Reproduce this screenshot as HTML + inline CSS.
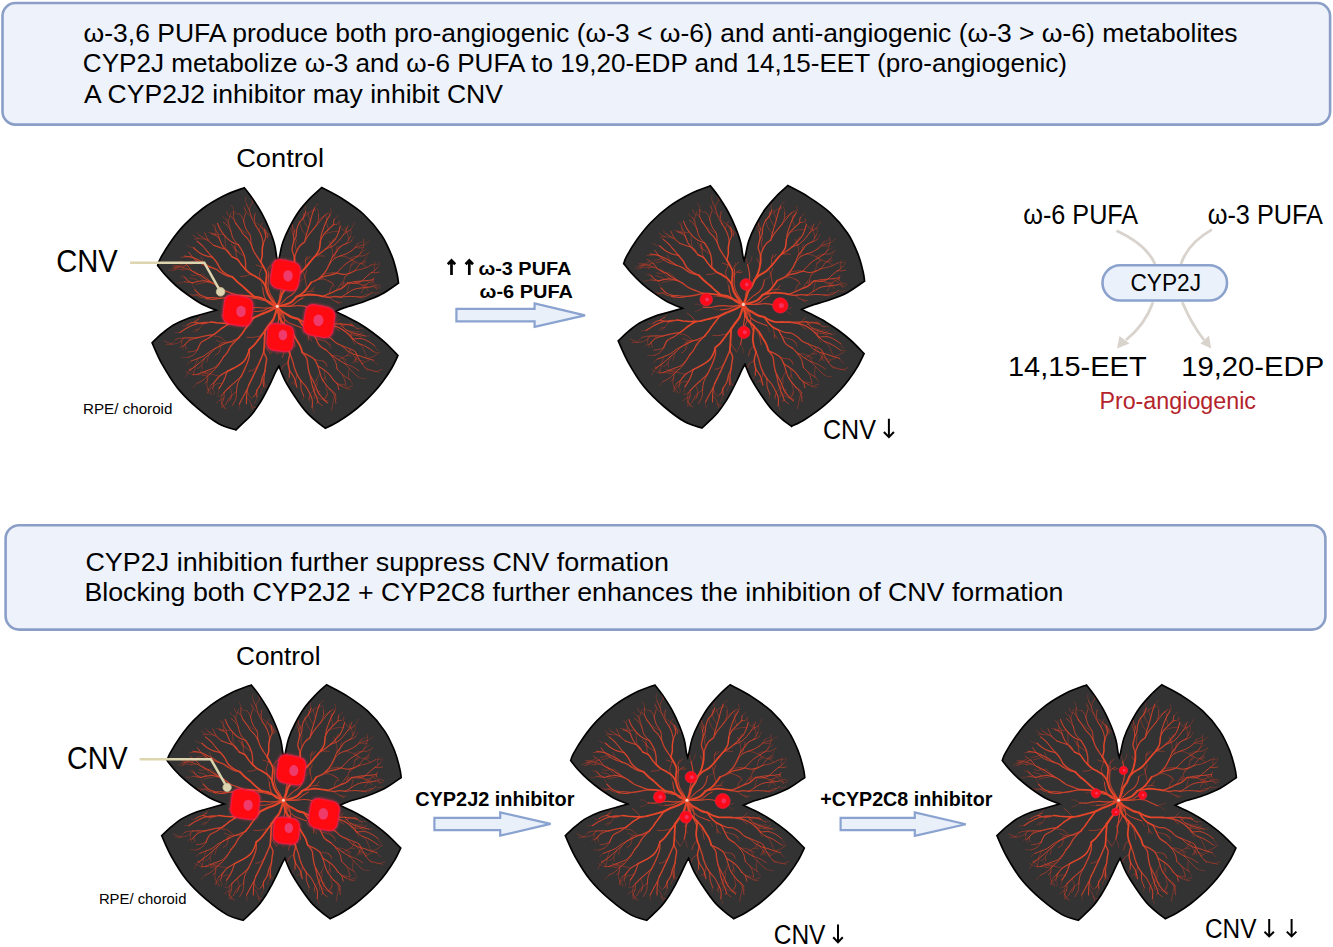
<!DOCTYPE html>
<html><head><meta charset="utf-8"><style>
html,body{margin:0;padding:0;background:#fff;width:1333px;height:947px;overflow:hidden;}
svg{display:block;}
text{font-family:"Liberation Sans",sans-serif;}
</style></head><body>
<svg width="1333" height="947" viewBox="0 0 1333 947">
<defs>
<filter id="glow" x="-50%" y="-50%" width="200%" height="200%"><feGaussianBlur stdDeviation="1.6"/></filter>
<filter id="soft" x="-50%" y="-50%" width="200%" height="200%"><feGaussianBlur stdDeviation="0.5"/></filter>
<filter id="glow2" x="-80%" y="-80%" width="260%" height="260%"><feGaussianBlur stdDeviation="1.6"/></filter>
<clipPath id="fclip"><path d="M-119.7 -40.8C-119.2 -42 -119 -44.1 -116.7 -48.2C-114.5 -52.2 -110.2 -59.5 -106.2 -65.1C-102.2 -70.7 -97.8 -76.5 -92.5 -81.9C-87.2 -87.4 -81 -93 -74.5 -97.8C-68 -102.6 -60.3 -107 -53.4 -110.5C-46.5 -114 -36.4 -117.3 -33 -118.6C-31.7 -116.9 -27.9 -112.4 -25 -108.1C-22.1 -103.8 -18.3 -98.1 -15.5 -92.9C-12.7 -87.7 -10 -82 -7.9 -76.8C-5.8 -71.6 -3.9 -66.4 -2.7 -61.6C-1.5 -56.9 -1.1 -51.2 -0.5 -48.3C0.1 -45.4 0.5 -45 0.7 -44.3C0.9 -45.1 1.3 -46 2.1 -49.2C2.9 -52.4 3.7 -58.6 5.4 -63.5C7 -68.4 9.3 -73.5 12 -78.7C14.7 -83.9 18 -89.9 21.5 -94.8C25 -99.7 29.1 -104.1 32.9 -108.1C36.7 -112.1 42.5 -117 44.4 -118.8C47.7 -117 57.3 -112.5 64.3 -108C71.3 -103.5 79.9 -98 86.5 -91.8C93.1 -85.7 99.5 -78 104.2 -71.1C108.9 -64.2 111.9 -56.8 114.5 -50.4C117.1 -44 118.6 -37.2 119.7 -32.7C120.8 -28.2 120.9 -24.9 121.2 -23.3C118.4 -21.4 110 -15.1 104.2 -12C98.4 -8.9 92.6 -6.8 86.5 -4.6C80.4 -2.4 72 -0.3 67.3 1.3C62.6 2.9 59.7 4.5 58.2 5.2C60.1 6.1 65.6 8.6 69.6 10.7C73.6 12.7 78.1 15 82.3 17.5C86.5 20 90.7 22.8 94.9 25.9C99.1 29 103.3 32.2 107.6 36.1C111.9 40 118.5 47 120.7 49.2C119.7 51.3 117 57.4 114.5 61.7C112 66 108.5 71.1 105.5 75.1C102.5 79.1 99.9 82.3 96.6 85.9C93.3 89.5 89.6 93.3 85.8 96.7C82.1 100.1 78.3 103.4 74.1 106.5C69.9 109.6 65 112.9 60.7 115.5C56.4 118.1 50.2 120.9 48.1 122C46.6 120.8 42.4 117.9 39.1 115.1C35.8 112.3 32 109.1 28.5 105.1C25 101.1 21.5 96.1 18 90.9C14.5 85.7 10.3 79.2 7.6 74C4.9 68.8 2.6 62.2 1.6 59.9C1.1 60.8 -0.2 62.8 -1.5 65.4C-2.8 68 -4.5 72.1 -6.2 75.6C-7.9 79.1 -9.7 82.8 -11.7 86.5C-13.7 90.2 -15.6 93.9 -18 97.5C-20.4 101.1 -23.2 105.3 -25.8 108.4C-28.4 111.5 -31 113.7 -33.6 116.2C-36.2 118.7 -40.1 122.4 -41.4 123.6C-44.2 122.6 -51.9 121.3 -58.2 117.7C-64.6 114.1 -72.6 108 -79.5 102.1C-86.4 96.2 -93.5 89.5 -99.5 82.1C-105.5 74.7 -110.9 65.5 -115.2 57.9C-119.5 50.3 -123.5 40.1 -125.2 36.5C-123.5 34.9 -118.8 30.2 -115.2 27.2C-111.6 24.2 -108.1 21.2 -103.8 18.7C-99.5 16.2 -94.3 14 -89.5 12.2C-84.7 10.4 -80 9.4 -75.2 8C-70.5 6.6 -63.4 4.6 -61 3.9C-63.4 2.9 -70.7 0.3 -75.6 -2.3C-80.5 -5 -86 -8.9 -90.3 -12C-94.6 -15.1 -97.7 -17.5 -101.4 -20.8C-105.1 -24.1 -109.5 -28.6 -112.5 -31.9C-115.5 -35.2 -118.5 -39.3 -119.7 -40.8Z"/></clipPath>
<g id="flower">
<path d="M-119.7 -40.8C-119.2 -42 -119 -44.1 -116.7 -48.2C-114.5 -52.2 -110.2 -59.5 -106.2 -65.1C-102.2 -70.7 -97.8 -76.5 -92.5 -81.9C-87.2 -87.4 -81 -93 -74.5 -97.8C-68 -102.6 -60.3 -107 -53.4 -110.5C-46.5 -114 -36.4 -117.3 -33 -118.6C-31.7 -116.9 -27.9 -112.4 -25 -108.1C-22.1 -103.8 -18.3 -98.1 -15.5 -92.9C-12.7 -87.7 -10 -82 -7.9 -76.8C-5.8 -71.6 -3.9 -66.4 -2.7 -61.6C-1.5 -56.9 -1.1 -51.2 -0.5 -48.3C0.1 -45.4 0.5 -45 0.7 -44.3C0.9 -45.1 1.3 -46 2.1 -49.2C2.9 -52.4 3.7 -58.6 5.4 -63.5C7 -68.4 9.3 -73.5 12 -78.7C14.7 -83.9 18 -89.9 21.5 -94.8C25 -99.7 29.1 -104.1 32.9 -108.1C36.7 -112.1 42.5 -117 44.4 -118.8C47.7 -117 57.3 -112.5 64.3 -108C71.3 -103.5 79.9 -98 86.5 -91.8C93.1 -85.7 99.5 -78 104.2 -71.1C108.9 -64.2 111.9 -56.8 114.5 -50.4C117.1 -44 118.6 -37.2 119.7 -32.7C120.8 -28.2 120.9 -24.9 121.2 -23.3C118.4 -21.4 110 -15.1 104.2 -12C98.4 -8.9 92.6 -6.8 86.5 -4.6C80.4 -2.4 72 -0.3 67.3 1.3C62.6 2.9 59.7 4.5 58.2 5.2C60.1 6.1 65.6 8.6 69.6 10.7C73.6 12.7 78.1 15 82.3 17.5C86.5 20 90.7 22.8 94.9 25.9C99.1 29 103.3 32.2 107.6 36.1C111.9 40 118.5 47 120.7 49.2C119.7 51.3 117 57.4 114.5 61.7C112 66 108.5 71.1 105.5 75.1C102.5 79.1 99.9 82.3 96.6 85.9C93.3 89.5 89.6 93.3 85.8 96.7C82.1 100.1 78.3 103.4 74.1 106.5C69.9 109.6 65 112.9 60.7 115.5C56.4 118.1 50.2 120.9 48.1 122C46.6 120.8 42.4 117.9 39.1 115.1C35.8 112.3 32 109.1 28.5 105.1C25 101.1 21.5 96.1 18 90.9C14.5 85.7 10.3 79.2 7.6 74C4.9 68.8 2.6 62.2 1.6 59.9C1.1 60.8 -0.2 62.8 -1.5 65.4C-2.8 68 -4.5 72.1 -6.2 75.6C-7.9 79.1 -9.7 82.8 -11.7 86.5C-13.7 90.2 -15.6 93.9 -18 97.5C-20.4 101.1 -23.2 105.3 -25.8 108.4C-28.4 111.5 -31 113.7 -33.6 116.2C-36.2 118.7 -40.1 122.4 -41.4 123.6C-44.2 122.6 -51.9 121.3 -58.2 117.7C-64.6 114.1 -72.6 108 -79.5 102.1C-86.4 96.2 -93.5 89.5 -99.5 82.1C-105.5 74.7 -110.9 65.5 -115.2 57.9C-119.5 50.3 -123.5 40.1 -125.2 36.5C-123.5 34.9 -118.8 30.2 -115.2 27.2C-111.6 24.2 -108.1 21.2 -103.8 18.7C-99.5 16.2 -94.3 14 -89.5 12.2C-84.7 10.4 -80 9.4 -75.2 8C-70.5 6.6 -63.4 4.6 -61 3.9C-63.4 2.9 -70.7 0.3 -75.6 -2.3C-80.5 -5 -86 -8.9 -90.3 -12C-94.6 -15.1 -97.7 -17.5 -101.4 -20.8C-105.1 -24.1 -109.5 -28.6 -112.5 -31.9C-115.5 -35.2 -118.5 -39.3 -119.7 -40.8Z" fill="#333333"/>
<g clip-path="url(#fclip)" fill="none" stroke="#e0452b" stroke-linecap="round" stroke-linejoin="round">
<path d="M-80.8 -11.7C-81.3 -11.6 -82.6 -11.5 -83.5 -11.5C-84.4 -11.5 -85.2 -11.6 -86.1 -11.7C-87 -11.8 -88.3 -12.1 -88.7 -12.2M-82.4 -16.4C-82.5 -16.7 -82.6 -17.5 -82.9 -18.1C-83.1 -18.6 -83.5 -19 -83.8 -19.5C-84 -20 -84.4 -20.8 -84.5 -21M-92.9 -24.6C-93.3 -24.5 -94.4 -24 -95.1 -23.8C-95.9 -23.6 -96.6 -23.5 -97.4 -23.4C-98.2 -23.4 -99.4 -23.6 -99.8 -23.7M-92.2 -28.9C-92.5 -29 -93.4 -29 -94 -29.1C-94.6 -29.1 -95.2 -29.2 -95.8 -29.4C-96.3 -29.7 -97.1 -30.3 -97.3 -30.5M-103.9 -38.3C-104.2 -38.2 -105 -37.9 -105.6 -37.7C-106.1 -37.4 -106.6 -37.2 -107.1 -36.9C-107.6 -36.6 -108.3 -36 -108.5 -35.9M-93.5 -39.6C-93.6 -39.4 -93.8 -38.7 -93.9 -38.2C-94.1 -37.7 -94.3 -37.3 -94.4 -36.8C-94.6 -36.4 -94.7 -35.7 -94.8 -35.4M-83.8 -58.6C-84.2 -58.6 -85.5 -58.6 -86.2 -58.8C-87 -59 -87.7 -59.3 -88.4 -59.7C-89.1 -60 -90 -60.9 -90.4 -61.1M-77.7 -70.8C-77.9 -71 -78.4 -71.4 -78.7 -71.8C-79 -72.2 -79.2 -72.7 -79.4 -73.1C-79.6 -73.5 -79.9 -74.2 -80 -74.4M-61.9 -76.2C-61.9 -76.5 -61.9 -77.4 -62 -78.1C-62 -78.7 -62 -79.3 -62.1 -79.9C-62.1 -80.5 -62.2 -81.4 -62.3 -81.7M-50.8 -86.9C-51.1 -87 -52 -87.3 -52.5 -87.6C-53 -87.9 -53.5 -88.2 -53.9 -88.7C-54.3 -89.2 -54.6 -90.1 -54.7 -90.4M-43.6 -95C-43.6 -95.4 -43.5 -96.6 -43.7 -97.2C-43.9 -97.9 -44.3 -98.6 -44.6 -99.2C-45 -99.8 -45.7 -100.7 -45.9 -101M-38 -92.4C-38.4 -92.3 -39.7 -92.2 -40.4 -92.3C-41.1 -92.4 -41.7 -92.8 -42.4 -93.2C-43 -93.6 -43.8 -94.5 -44.1 -94.8M-31.8 -92.6C-31.7 -93 -31.4 -94.3 -31.5 -95.1C-31.5 -95.9 -31.7 -96.6 -32 -97.4C-32.3 -98.1 -32.9 -99.2 -33.1 -99.5M-30.8 -102.2C-30.9 -102.6 -31.3 -103.7 -31.5 -104.5C-31.6 -105.2 -31.6 -106 -31.7 -106.8C-31.7 -107.6 -31.6 -108.7 -31.5 -109.1M14.6 -75.1C14.4 -75.6 14 -76.9 13.5 -77.7C13 -78.4 12.5 -79.1 11.8 -79.7C11.1 -80.2 9.7 -80.7 9.3 -80.9M28.5 -94.5C28.4 -94.8 28 -95.7 27.9 -96.3C27.8 -96.9 27.7 -97.5 27.7 -98.1C27.8 -98.7 28.1 -99.7 28.2 -100M37.2 -98.4C37.4 -98.7 37.9 -99.6 38.3 -100.1C38.6 -100.6 39.1 -101.1 39.6 -101.5C40.1 -101.9 41.1 -102.2 41.4 -102.4M41.3 -92C41.3 -92.4 41.6 -93.4 41.5 -94C41.4 -94.7 41 -95.2 40.7 -95.8C40.5 -96.4 40 -97.3 39.9 -97.6M48.1 -91.7C48.4 -91.9 49.2 -92.4 49.7 -92.6C50.3 -92.9 50.8 -93.1 51.4 -93.2C52 -93.4 52.9 -93.5 53.2 -93.6M52.8 -91.6C53 -92 53.8 -93.1 53.9 -93.9C54 -94.7 53.6 -95.5 53.5 -96.2C53.4 -97 53.2 -98.2 53.1 -98.6M57 -87.1C57.3 -87.3 57.9 -87.9 58.4 -88.3C58.9 -88.7 59.5 -88.9 59.9 -89.4C60.3 -89.8 60.6 -90.8 60.8 -91M59.2 -82C59.4 -82.1 60.2 -82.3 60.7 -82.6C61.1 -82.8 61.5 -83.1 61.9 -83.4C62.2 -83.8 62.6 -84.6 62.7 -84.8M63 -80C62.8 -80.3 62 -81.1 61.8 -81.7C61.6 -82.4 61.7 -83 61.7 -83.7C61.7 -84.3 61.9 -85.3 61.9 -85.7M73.1 -76.3C73.4 -76.6 74.1 -77.7 74.6 -78.5C75 -79.2 75.5 -80 75.9 -80.7C76.3 -81.5 76.9 -82.7 77 -83.1M73 -69.9C73.1 -70.3 73.5 -71.4 73.6 -72.2C73.8 -72.9 74 -73.7 73.9 -74.4C73.9 -75.2 73.4 -76.4 73.3 -76.8M74.4 -65.6C74.5 -65.9 74.8 -66.7 75.1 -67.1C75.3 -67.6 75.7 -68 76 -68.5C76.3 -69 76.6 -69.7 76.7 -70M80.4 -62.7C80.7 -62.8 81.5 -63.1 82.1 -63.3C82.6 -63.5 83.1 -63.7 83.6 -64C84.2 -64.2 85 -64.6 85.2 -64.7M86.5 -61.4C86.9 -61.5 88 -61.9 88.5 -62.4C89.1 -62.8 89.5 -63.6 90.1 -64.1C90.7 -64.5 91.8 -64.9 92.1 -65.1M83.9 -53.9C84.2 -54.1 85 -54.6 85.5 -54.9C86 -55.2 86.6 -55.5 87.1 -55.8C87.6 -56.1 88.4 -56.6 88.7 -56.8M87.5 -45.9C87.6 -46.2 87.8 -47.1 88 -47.6C88.3 -48.1 88.6 -48.6 88.9 -49.1C89.2 -49.6 89.9 -50.2 90.1 -50.4M94.7 -41.6C94.9 -41.7 95.8 -41.9 96.4 -42C96.9 -42 97.5 -41.9 98.1 -41.8C98.7 -41.8 99.5 -41.9 99.8 -41.9M99.6 -38.2C99.8 -38.4 100.6 -39.2 100.9 -39.7C101.3 -40.3 101.6 -40.8 101.7 -41.5C101.8 -42.1 101.6 -43.2 101.6 -43.6M95.8 -24.2C96.1 -23.9 96.9 -23.2 97.3 -22.7C97.7 -22.1 98 -21.5 98.3 -20.8C98.7 -20.2 99.1 -19.2 99.2 -18.9M95.1 -19.8C95.5 -19.6 96.8 -19.2 97.6 -19C98.4 -18.7 99.2 -18.3 100.1 -18.2C100.9 -18.2 102.3 -18.5 102.7 -18.5M94.8 -13.8C95.1 -13.7 96.3 -13.2 97.1 -13.1C97.9 -13 98.6 -13.1 99.4 -13.2C100.2 -13.3 101.3 -13.7 101.7 -13.9M73.5 17.5C73.1 17.6 72.2 17.9 71.5 17.9C70.9 18 70.3 17.9 69.6 17.8C69 17.7 68.1 17.3 67.7 17.2M81 22.4C81.2 22.4 81.9 22.1 82.4 22.1C82.9 22 83.4 21.9 83.8 21.9C84.3 22 85 22.1 85.3 22.2M87.8 29.7C88.1 29.8 88.8 29.8 89.3 29.8C89.7 29.8 90.2 29.9 90.7 29.8C91.2 29.8 91.8 29.5 92.1 29.4M97.2 39.3C97.4 39.6 97.9 40.5 98.1 41.1C98.4 41.7 98.6 42.4 99 42.9C99.4 43.4 100.5 43.8 100.8 44M97 45.8C97.2 45.9 98.1 46 98.7 46.1C99.3 46.2 99.9 46.4 100.5 46.4C101.1 46.4 102.1 46.2 102.4 46.2M96.2 53.9C96.4 54.2 96.8 55.3 97.1 55.8C97.5 56.4 98.1 56.8 98.6 57.3C99.1 57.8 100 58.3 100.3 58.6M87.4 55.5C87.7 55.4 88.5 55.2 89.1 55C89.7 54.8 90.2 54.6 90.8 54.4C91.3 54.2 92.1 53.8 92.3 53.7M90.5 63.7C90.8 63.7 91.9 63.6 92.6 63.7C93.2 63.7 93.9 63.7 94.6 64C95.2 64.3 95.9 65.2 96.2 65.4M80.9 70.6C81.3 70.8 82.5 71.4 83.4 71.7C84.2 72 85.1 72.2 85.9 72.3C86.8 72.4 88.2 72.2 88.6 72.2M72.8 73.4C72.9 73.7 73.3 74.5 73.5 75C73.8 75.5 73.8 76.2 74.2 76.6C74.5 77.1 75.4 77.6 75.6 77.7M68.4 77.3C68.4 77.5 68.4 78.2 68.4 78.7C68.3 79.2 68.2 79.6 68.1 80.1C68 80.5 67.7 81.2 67.6 81.4M58.4 88.6C58.4 88.8 58.2 89.7 58.2 90.2C58.3 90.7 58.6 91.2 58.7 91.8C58.8 92.3 58.9 93.1 59 93.3M34.8 101.3C35 101.5 35.5 102.2 35.7 102.8C35.9 103.3 36 103.9 36.1 104.5C36.3 105 36.7 105.8 36.8 106M26.5 89.7C26.5 89.9 26.3 90.6 26.2 91C26.1 91.5 25.9 91.9 25.8 92.4C25.7 92.8 25.7 93.5 25.7 93.8M12 70.8C11.8 71.1 10.9 72.2 10.4 72.9C10 73.7 9.5 74.4 9.3 75.3C9 76.1 9.1 77.5 9 78M-13.6 80C-13.7 80.3 -14.3 81.4 -14.7 82.1C-15.1 82.9 -15.6 83.6 -15.9 84.3C-16.2 85.1 -16.5 86.3 -16.6 86.7M-20.3 90.5C-20.4 90.9 -20.7 92.2 -20.9 93C-21.2 93.8 -21.5 94.6 -21.9 95.3C-22.3 96.1 -23 97.2 -23.2 97.5M-37.9 97.6C-37.9 97.9 -37.9 98.8 -37.8 99.4C-37.7 100 -37.6 100.6 -37.5 101.2C-37.4 101.8 -37.3 102.7 -37.3 103M-51.5 98.1C-51.7 98.3 -52.5 98.9 -53 99.2C-53.5 99.6 -54.1 99.9 -54.5 100.3C-54.9 100.8 -55.4 101.7 -55.5 101.9M-55.9 97.4C-55.8 97.6 -55.7 98.3 -55.7 98.7C-55.7 99.2 -55.8 99.6 -55.8 100.1C-55.8 100.5 -55.7 101.2 -55.7 101.4M-56.2 89C-56.4 89.2 -57 89.7 -57.4 89.9C-57.9 90 -58.3 90 -58.8 90C-59.3 90 -60 89.8 -60.2 89.8M-58.4 82.2C-58.4 82.5 -58.2 83.4 -58.4 84C-58.5 84.7 -59 85.2 -59.1 85.8C-59.3 86.4 -59.3 87.3 -59.3 87.7M-64.7 82.4C-64.6 82.8 -64 83.7 -63.7 84.4C-63.5 85 -63.1 85.6 -63 86.3C-63 87 -63.6 88.2 -63.7 88.5M-80.4 77.1C-80.6 77.3 -81.3 78 -81.7 78.5C-82.2 79 -82.6 79.4 -83.1 79.9C-83.5 80.4 -84.2 81.1 -84.4 81.4M-78.4 68.5C-78.2 68.5 -77.5 68.2 -77 68.2C-76.6 68.1 -76.1 68.1 -75.7 68.1C-75.2 68.2 -74.5 68.5 -74.3 68.6M-84.6 68.4C-85 68.2 -86.2 67.7 -87 67.4C-87.7 67.1 -88.5 66.7 -89.3 66.3C-90.1 65.9 -91.1 65.2 -91.5 65M-87.6 64C-87.8 64.4 -88.8 65.3 -89.2 66.1C-89.7 66.8 -90 67.7 -90.4 68.4C-90.8 69.2 -91.4 70.3 -91.6 70.7M-86 54.7C-86.3 54.9 -87 55.3 -87.5 55.6C-87.9 55.9 -88.4 56.2 -88.8 56.6C-89.2 57 -89.6 57.8 -89.7 58.1M-89.8 51.2C-90.2 51.2 -91.2 51.3 -91.8 51.2C-92.5 51.2 -93.2 51.1 -93.8 51.1C-94.5 51 -95.5 50.9 -95.8 50.9M-93.7 39.9C-94 40 -94.7 40.3 -95.2 40.4C-95.7 40.5 -96.2 40.4 -96.7 40.6C-97.1 40.8 -97.8 41.3 -98 41.4M-95.7 36.4C-95.7 36.8 -95.8 38 -95.7 38.8C-95.6 39.6 -95.4 40.4 -95.2 41.2C-94.9 41.9 -94.2 43 -94 43.3M-101.7 33.1C-102 33.4 -102.9 34.2 -103.4 34.8C-104 35.3 -104.6 35.9 -105.1 36.4C-105.7 37 -106.5 37.9 -106.8 38.2M-97.3 26.1C-97.5 26.1 -98.3 26.3 -98.9 26.2C-99.4 26.2 -100 25.9 -100.6 26C-101.1 26 -101.9 26.4 -102.2 26.5M-90.2 18.8C-90.4 18.9 -91.1 19.3 -91.6 19.5C-92.1 19.7 -92.6 19.8 -93.1 19.7C-93.6 19.7 -94.5 19.4 -94.7 19.3M-79 13.3C-78.8 12.9 -78.2 11.8 -77.8 11C-77.4 10.3 -77 9.5 -76.5 8.9C-76 8.2 -75 7.3 -74.7 7M-14.6 -18.5C-14.8 -18.8 -15.2 -19.7 -15.4 -20.4C-15.6 -21 -15.8 -21.7 -15.9 -22.3C-16 -23 -16.2 -24 -16.2 -24.3M21 -24.7C21.3 -24.9 22.5 -25.3 23.2 -25.6C23.9 -25.9 24.6 -26.2 25.3 -26.6C26 -27 27 -27.7 27.4 -27.9M25.6 -8.3C25.9 -8.7 26.8 -9.8 27.5 -10.4C28.1 -11.1 28.9 -11.7 29.6 -12.2C30.4 -12.8 31.6 -13.6 31.9 -13.8M23.5 21.2C23.7 21.5 24.2 22.6 24.6 23.3C24.9 24 25.3 24.6 25.6 25.3C26 26 26.3 27.2 26.5 27.5M9.5 25.2C9.9 25.4 11.5 25.9 12.3 26.5C13.1 27.1 13.8 27.8 14.3 28.6C14.8 29.4 15.3 31 15.5 31.5M-13 24.2C-12.9 24.6 -12.6 26.1 -12.6 27.1C-12.6 28.1 -12.6 29 -12.8 30C-13 30.9 -13.6 32.3 -13.8 32.8M-22.7 5.2C-23.1 5.2 -24.4 5.4 -25.3 5.4C-26.1 5.4 -27 5.4 -27.8 5.2C-28.6 4.9 -29.7 4.1 -30.1 3.9M-25.7 -8.2C-26.2 -8.1 -27.6 -8 -28.5 -7.9C-29.4 -7.7 -30.3 -7.5 -31.3 -7.5C-32.2 -7.4 -33.6 -7.4 -34.1 -7.4M-8.8 -34.6C-8.8 -35 -8.6 -36.1 -8.5 -36.8C-8.4 -37.6 -8.5 -38.3 -8.4 -39.1C-8.2 -39.8 -7.9 -40.9 -7.8 -41.3M-1.9 27C-1.8 27.4 -1.8 28.7 -1.6 29.5C-1.4 30.2 -1.1 31 -0.8 31.7C-0.4 32.4 0.3 33.4 0.5 33.8M4.2 -39.8C4.1 -40.3 3.8 -41.8 3.6 -42.7C3.3 -43.7 3 -44.7 2.7 -45.6C2.4 -46.5 1.8 -47.9 1.6 -48.4M4.2 -39.8C4.6 -40.1 6.1 -41 6.7 -41.8C7.3 -42.6 7.6 -43.6 7.9 -44.6C8.2 -45.5 8.4 -47.1 8.5 -47.7M39.6 5.6C40.1 5.5 41.6 5.1 42.5 4.9C43.5 4.7 44.5 4.4 45.4 4.1C46.4 3.8 47.8 3.4 48.3 3.2M39.6 5.6C40.1 5.7 41.8 5.9 42.7 6.3C43.6 6.8 44.2 7.6 45 8.3C45.8 8.9 46.9 9.9 47.3 10.2M-2.8 39.9C-2.5 40.3 -1.7 41.6 -1.3 42.6C-0.9 43.5 -0.6 44.4 -0.4 45.4C-0.1 46.4 0 47.9 0.1 48.4M-2.8 39.9C-3 40.3 -3.9 41.6 -4.3 42.5C-4.8 43.4 -5 44.4 -5.5 45.3C-5.9 46.2 -6.6 47.5 -6.9 47.9M-39.9 2.8C-40.3 3.1 -41.4 4.2 -42.3 4.8C-43.1 5.3 -44 5.7 -45 6C-45.9 6.4 -47.4 6.7 -47.9 6.9M-39.9 2.8C-40.3 2.5 -41.6 1.7 -42.5 1.2C-43.4 0.7 -44.2 -0.1 -45.2 -0.3C-46.2 -0.5 -47.9 -0.2 -48.4 -0.1" stroke="#cc3f2b" stroke-width="0.500" stroke-opacity="0.7"/>
<path d="M-77 -11.3C-77.7 -11.3 -79.9 -11.4 -81.4 -11.2C-82.9 -11.1 -84.3 -10.4 -85.8 -10.2C-87.2 -10.1 -89.5 -10.3 -90.2 -10.3M-85.8 -10.2C-86 -9.9 -86.7 -9 -87.2 -8.4C-87.7 -7.9 -88.3 -7.4 -89 -7.1C-89.6 -6.8 -90.9 -6.6 -91.2 -6.5M-66.7 -23.8C-67.1 -24.4 -68.1 -26.1 -69 -27.1C-69.9 -28.1 -71 -28.8 -72 -29.6C-73 -30.5 -74.5 -31.8 -75 -32.2M-72.7 -25.4C-73.3 -25.9 -75.4 -27.1 -76.6 -28.1C-77.7 -29.2 -78.7 -30.5 -79.7 -31.7C-80.7 -32.9 -82.2 -34.8 -82.7 -35.4M-79.7 -31.7C-80.1 -31.6 -81.2 -31.1 -82 -30.9C-82.8 -30.8 -83.6 -30.7 -84.4 -30.8C-85.2 -31 -86.3 -31.6 -86.7 -31.7M-78.7 -25C-79.2 -25.3 -80.5 -26.4 -81.5 -26.9C-82.5 -27.3 -83.6 -27.4 -84.6 -27.7C-85.7 -28 -87.2 -28.4 -87.7 -28.6M-88.9 -23.9C-89.2 -24.3 -90.2 -25.4 -90.8 -26.2C-91.3 -27 -91.7 -28 -92.3 -28.8C-92.8 -29.6 -93.9 -30.7 -94.2 -31M-66.3 -24.4C-67.1 -24.3 -69.7 -24.2 -71.4 -24C-73.1 -23.8 -74.8 -23.5 -76.5 -23.1C-78.2 -22.7 -80.7 -22 -81.5 -21.8M-89.6 -37.2C-90.5 -37.1 -93.2 -36.7 -95 -36.7C-96.8 -36.7 -98.7 -37.5 -100.4 -37.3C-102.2 -37 -104.8 -35.7 -105.7 -35.4M-92.1 -40.8C-92.7 -40.7 -94.4 -40.2 -95.6 -40C-96.7 -39.9 -97.9 -39.8 -99 -39.8C-100.2 -39.9 -102 -40.3 -102.5 -40.3M-99 -39.8C-99.3 -39.7 -99.9 -39.1 -100.4 -38.7C-100.9 -38.4 -101.5 -38.2 -101.9 -37.8C-102.3 -37.4 -102.6 -36.4 -102.7 -36.1M-93.3 -43.3C-93.9 -42.9 -95.6 -41.7 -96.8 -41.2C-98 -40.8 -99.2 -40.7 -100.5 -40.6C-101.8 -40.5 -103.8 -40.6 -104.5 -40.6M-79.5 -46.6C-80.1 -46.4 -81.7 -45.8 -82.7 -45.5C-83.8 -45.1 -84.9 -44.8 -86 -44.6C-87.1 -44.4 -88.8 -44.2 -89.3 -44.1M-73.7 -41.4C-73.7 -41.9 -73.8 -43.3 -74 -44.2C-74.2 -45.1 -74.5 -46 -74.9 -46.8C-75.3 -47.7 -76.1 -48.9 -76.4 -49.3M-79.4 -44.4C-79.9 -44.2 -81.1 -43.4 -82 -43.1C-82.9 -42.7 -83.8 -42.5 -84.7 -42.3C-85.7 -42 -87.1 -41.8 -87.6 -41.7M-84.3 -48.7C-85 -48.8 -87 -49.5 -88.3 -49.6C-89.7 -49.7 -91 -49.2 -92.4 -49.1C-93.7 -49 -95.7 -49.1 -96.4 -49.1M-69.2 -66.6C-70 -66.7 -72.2 -67.1 -73.8 -67.3C-75.3 -67.5 -76.8 -67.6 -78.4 -67.6C-79.9 -67.6 -82.2 -67.2 -83 -67.1M-78.4 -67.6C-78.7 -67.8 -79.8 -68.3 -80.5 -68.6C-81.2 -68.9 -82 -69.1 -82.6 -69.5C-83.2 -70 -83.9 -71 -84.2 -71.3M-50.6 -55.4C-50.8 -56.2 -51.5 -58.6 -51.7 -60.2C-52 -61.9 -52.1 -63.5 -52.2 -65.2C-52.3 -66.8 -52.4 -69.3 -52.4 -70.2M-61.8 -71.1C-61.7 -71.8 -61.1 -74 -61.2 -75.3C-61.3 -76.6 -61.9 -77.7 -62.5 -78.9C-63.2 -80 -64.7 -81.6 -65.1 -82.1M-39.8 -54.6C-40 -54.9 -40.7 -55.7 -41.2 -56.3C-41.6 -56.8 -42.1 -57.4 -42.4 -58C-42.7 -58.6 -43 -59.7 -43.1 -60.1M-53.9 -72.1C-54.7 -72.1 -57.2 -71.5 -58.9 -71.6C-60.5 -71.8 -62 -72.6 -63.6 -72.9C-65.2 -73.3 -67.7 -73.6 -68.5 -73.7M-48.3 -81.3C-48.4 -82 -48.9 -84.1 -48.8 -85.5C-48.7 -86.8 -48 -88.1 -47.6 -89.4C-47.2 -90.7 -46.6 -92.6 -46.3 -93.3M-47.6 -89.4C-47.8 -89.6 -48.7 -90.3 -49.1 -90.9C-49.5 -91.4 -49.8 -92 -50 -92.6C-50.3 -93.3 -50.4 -94.4 -50.5 -94.7M-27 -70.7C-27.5 -71 -28.9 -72.1 -29.9 -72.8C-30.9 -73.4 -32.2 -73.8 -33.1 -74.5C-34.1 -75.2 -35.3 -76.6 -35.7 -77M-18.1 -75.2C-18 -75.7 -17.8 -77.2 -17.6 -78.1C-17.3 -79 -16.9 -79.9 -16.4 -80.7C-16 -81.6 -15.2 -82.8 -14.9 -83.2M-27.7 -95.1C-27.6 -95.9 -27.7 -98.6 -27.1 -100.1C-26.6 -101.7 -25 -102.9 -24.3 -104.4C-23.6 -106 -23.1 -108.4 -22.9 -109.2M-24.3 -104.4C-24.5 -104.8 -25.1 -106 -25.4 -106.8C-25.7 -107.6 -25.9 -108.4 -25.9 -109.2C-25.9 -110.1 -25.5 -111.4 -25.4 -111.8M-22.9 -86.8C-23.6 -87.4 -25.6 -89 -26.8 -90.2C-28.1 -91.3 -29.4 -92.4 -30.4 -93.8C-31.5 -95.1 -32.7 -97.4 -33.2 -98.2M-11.5 -69.8C-11.8 -70.6 -12.7 -73.2 -13.5 -74.9C-14.3 -76.5 -15 -78.1 -16.2 -79.5C-17.3 -80.8 -19.8 -82.4 -20.5 -83M-10.3 -73.2C-9.8 -72.8 -8.5 -71.6 -7.6 -71C-6.6 -70.3 -5.6 -69.7 -4.6 -69.2C-3.6 -68.6 -2 -68 -1.4 -67.8M-4.6 -69.2C-4.3 -69.2 -3.5 -69.2 -2.9 -69.1C-2.3 -69.1 -1.7 -69 -1.2 -69C-0.6 -69 0.3 -69.2 0.6 -69.3M17.3 -74.1C17.2 -74.6 17.1 -76.2 16.8 -77.2C16.4 -78.1 15.6 -78.9 15.2 -79.8C14.7 -80.7 14.2 -82.1 14 -82.5M18.8 -70.2C18.5 -70.9 17.6 -72.7 17 -74C16.4 -75.3 15.6 -76.5 15.4 -77.8C15.1 -79.2 15.3 -81.4 15.2 -82.1M25.9 -88.5C26.6 -89 28.4 -90.6 29.7 -91.7C31 -92.8 32.1 -94.2 33.6 -94.9C35 -95.7 37.7 -96 38.5 -96.3M28.9 -71.2C28.3 -71.9 26.4 -73.8 25.5 -75.2C24.5 -76.7 24 -78.4 23.4 -80C22.9 -81.7 22.4 -84.3 22.2 -85.1M31 -78C30.6 -78.7 28.9 -80.9 28.1 -82.5C27.3 -84 26.5 -85.6 26.2 -87.3C25.9 -89 26.2 -91.8 26.2 -92.8M33 -84.8C32.8 -85.3 32.3 -86.7 32 -87.7C31.7 -88.7 31.4 -89.6 31.2 -90.6C30.9 -91.6 30.7 -93.1 30.6 -93.6M40.9 -85.9C41.4 -86.3 42.8 -87.9 43.9 -88.6C45 -89.4 46.5 -89.7 47.7 -90.5C48.8 -91.3 50.1 -92.9 50.6 -93.4M46.2 -71.6C47 -71.9 49.5 -73 51.2 -73.5C52.9 -74 54.6 -74.6 56.4 -74.7C58.2 -74.9 60.9 -74.7 61.8 -74.7M51.1 -76.8C51 -77.5 50.4 -79.6 50 -80.9C49.7 -82.3 49 -83.6 48.9 -85C48.9 -86.4 49.6 -88.6 49.7 -89.3M51.1 -25.5C51.5 -25.3 52.7 -24.6 53.4 -24.1C54.2 -23.6 55.1 -23.2 55.6 -22.5C56.2 -21.8 56.6 -20.3 56.8 -19.8M54.9 -48.8C54.9 -49.8 55.4 -52.7 55.2 -54.5C55.1 -56.4 54.5 -58.1 53.9 -59.9C53.3 -61.7 52.1 -64.2 51.7 -65.1M53.9 -59.9C53.9 -60.4 53.4 -62 53.6 -62.9C53.8 -63.8 54.4 -64.5 54.9 -65.4C55.3 -66.2 56 -67.4 56.3 -67.8M71.3 -66.3C71.2 -67 71 -69.2 70.7 -70.6C70.4 -72 70.1 -73.3 69.6 -74.6C69.1 -76 68.1 -77.9 67.8 -78.5M69.6 -74.6C69.2 -74.8 68.1 -75 67.5 -75.3C66.8 -75.6 66.2 -75.9 65.7 -76.4C65.1 -76.9 64.6 -78 64.4 -78.3M56.8 -47.5C57 -48.1 57.8 -50.1 58.1 -51.4C58.5 -52.8 58.5 -54.2 58.8 -55.6C59 -57 59.6 -59 59.8 -59.7M62.7 -50.3C63.5 -50.2 66.2 -50 67.9 -49.6C69.5 -49.1 71.1 -48.5 72.6 -47.7C74.1 -46.9 76.1 -45.2 76.8 -44.7M72.6 -47.7C73 -47.9 74.2 -48.4 74.9 -48.7C75.7 -49.1 76.5 -49.7 77.3 -49.8C78.2 -49.9 79.6 -49.3 80 -49.2M77.7 -59.1C78.2 -59 79.6 -58.6 80.5 -58.5C81.4 -58.4 82.4 -58.4 83.3 -58.4C84.3 -58.5 85.7 -58.8 86.1 -58.8M74.9 -46.5C75.7 -46 77.7 -44.4 79.2 -43.8C80.7 -43.1 82.1 -42.6 83.7 -42.6C85.3 -42.7 87.9 -43.8 88.7 -44.1M83.7 -42.6C84.1 -42.5 85.3 -42.1 86 -41.8C86.7 -41.4 87.3 -40.9 87.9 -40.4C88.4 -39.9 89.2 -38.9 89.4 -38.6M82.5 -51.9C82.9 -52.7 84.3 -55.1 85 -56.7C85.7 -58.4 86.4 -60 86.6 -61.8C86.8 -63.6 86.2 -66.4 86.2 -67.3M72.1 -33.1C72.2 -33.8 72.4 -35.8 72.7 -37.1C72.9 -38.4 73 -39.8 73.5 -41C74.1 -42.2 75.7 -43.8 76.1 -44.3M73.5 -41C73.8 -41.2 74.7 -41.6 75.3 -41.9C75.9 -42.3 76.4 -42.7 76.9 -43.1C77.5 -43.5 78.3 -44.1 78.5 -44.3M63 -21.4C63.3 -21.4 64.3 -21.4 64.9 -21.6C65.4 -21.8 65.9 -22.3 66.4 -22.6C67 -22.9 67.8 -23.1 68.1 -23.3M67.3 -28.8C67.7 -29.1 68.7 -29.9 69.4 -30.4C70.1 -31 70.7 -31.6 71.4 -32.1C72.1 -32.7 73.2 -33.4 73.5 -33.6M77.7 -23C78.3 -22.9 80.5 -23 81.6 -22.5C82.8 -22.1 83.8 -21.3 84.8 -20.5C85.8 -19.7 87.1 -18.2 87.6 -17.7M84.8 -20.5C85.1 -20.7 85.9 -21.3 86.5 -21.6C87 -21.9 87.6 -22 88.3 -22.1C88.9 -22.2 89.9 -22.2 90.2 -22.2M97.2 -35.7C97.2 -36.1 97.1 -37.5 97 -38.4C97 -39.4 96.8 -40.3 97 -41.2C97.1 -42.1 97.8 -43.4 98 -43.9M76.7 -24.5C77.4 -24.2 79.6 -23 81.2 -22.5C82.7 -21.9 84.4 -21.6 86 -21.2C87.5 -20.7 89.9 -19.8 90.6 -19.6M86 -21.2C86.3 -20.9 87.1 -20 87.7 -19.4C88.3 -18.9 89.1 -18.4 89.6 -17.8C90.1 -17.1 90.6 -15.9 90.8 -15.6M89.4 -25.7C90 -25.2 91.9 -24 93.1 -23.1C94.3 -22.3 95.6 -21.5 96.6 -20.4C97.7 -19.4 99 -17.5 99.5 -16.9M96.6 -20.4C97 -20.5 98.2 -21.1 98.9 -21.2C99.7 -21.3 100.4 -21.3 101.1 -21.1C101.9 -20.9 102.9 -20.2 103.3 -20M95.6 -25.4C94.7 -24.9 91.7 -24.1 90.2 -22.9C88.8 -21.8 87.9 -20 86.8 -18.5C85.8 -16.9 84.4 -14.4 83.9 -13.5M58.5 -4.7C58.8 -4.6 59.8 -4.4 60.5 -4.3C61.1 -4.2 61.8 -4.1 62.5 -4.1C63.1 -4 64.2 -3.9 64.5 -3.9M69.5 -12.7C69.7 -13.3 70.2 -15 70.5 -16.2C70.8 -17.3 71.1 -18.5 71.3 -19.7C71.6 -20.9 71.9 -22.7 72 -23.3M82.9 -9C83.4 -9.2 84.8 -9.8 85.8 -10.3C86.7 -10.8 87.5 -11.5 88.5 -11.9C89.5 -12.2 91.2 -12.1 91.8 -12.1M75.1 18.4C74.4 18.4 72.2 18.2 70.9 18.2C69.5 18.3 68.2 18.6 66.9 19C65.5 19.4 63.6 20.3 63 20.6M66.9 19C66.6 18.8 65.7 18 65.1 17.8C64.4 17.5 63.7 17.4 63.1 17.4C62.4 17.3 61.3 17.4 60.9 17.4M68.2 23.3C68.9 23.5 71.1 24.1 72.6 24.5C74 24.9 75.5 25.5 77 25.7C78.5 25.8 80.9 25.4 81.6 25.4M74.3 26.3C74.2 27 73.8 29.2 74.1 30.6C74.3 31.9 75.1 33.1 75.7 34.3C76.3 35.5 77.3 37.3 77.6 37.9M79.8 29.2C80.1 29 81 28.3 81.7 27.9C82.4 27.6 83.1 27.4 83.8 27C84.5 26.7 85.4 26 85.7 25.8M80.5 36.8C81.3 37.4 83.8 39.1 85 40.5C86.1 42 86.6 43.9 87.3 45.7C88.1 47.4 89.2 50 89.6 50.8M89.5 52.1C90.2 52 92.3 51.7 93.5 51.3C94.8 50.9 96 50.3 97.2 49.6C98.4 49 100.1 47.8 100.6 47.4M71.6 42.2C72.1 42.9 73.8 45.2 74.9 46.8C75.9 48.4 76.8 50 77.8 51.6C78.8 53.3 80.1 55.7 80.6 56.6M77.8 51.6C78.2 51.9 79.4 52.8 80.2 53.2C81.1 53.7 81.9 54.1 82.8 54.3C83.7 54.6 85.2 54.7 85.7 54.8M77.8 45.2C78.1 45.8 79.1 47.6 79.2 48.8C79.4 50 79 51.1 78.7 52.3C78.5 53.5 77.9 55.3 77.8 55.9M78.7 52.3C78.5 52.5 77.9 53.2 77.5 53.6C77.2 54.1 76.9 54.7 76.6 55.2C76.3 55.7 75.8 56.4 75.7 56.7M87.3 60.9C88 61.3 90.2 62.8 91.8 63.4C93.4 64 95.2 64.2 96.8 64.7C98.5 65.1 101 65.7 101.8 66M96.8 64.7C97.3 64.7 98.7 65.3 99.5 65.2C100.4 65.1 101.1 64.6 102 64.2C102.8 63.9 104 63.4 104.4 63.2M48.9 35.4C49.2 35.7 49.9 36.8 50.5 37.5C51 38.1 51.9 38.6 52.4 39.3C52.9 40 53.3 41.4 53.5 41.8M61 53.5C61.7 53.2 63.7 52.2 65 51.6C66.3 50.9 67.5 49.8 68.9 49.5C70.3 49.1 72.7 49.5 73.5 49.5M68.9 49.5C69.2 49.3 70.3 48.6 70.8 48.1C71.2 47.5 71.5 46.9 71.8 46.2C72.1 45.5 72.4 44.4 72.5 44M72 62C71.9 62.6 71.5 64.2 71.4 65.3C71.3 66.4 71.2 67.4 71.3 68.5C71.3 69.6 71.5 71.2 71.5 71.8M54 49.3C54.9 49.3 57.8 49.2 59.5 49.5C61.3 49.8 63 50.5 64.6 51.2C66.3 51.9 68.6 53.5 69.4 53.9M64.6 51.2C64.9 51.5 65.8 52.5 66.3 53.3C66.8 54 67.2 54.8 67.7 55.6C68.2 56.3 69.1 57.3 69.4 57.6M46.8 63.6C46.9 64.1 47.3 65.9 47.4 67C47.6 68.2 47.6 69.4 47.9 70.5C48.1 71.7 48.6 73.3 48.8 73.9M47.9 70.5C47.7 70.8 47.2 71.5 46.9 72C46.6 72.5 46.4 73.1 46.2 73.6C46.1 74.2 45.9 75.1 45.8 75.4M60.8 77.5C61.2 77.6 62.5 77.9 63.4 78C64.3 78.1 65.3 78.2 66.1 78.3C67 78.5 68.4 78.8 68.8 78.9M60.1 78.2C60.8 78.4 63.1 79.1 64.5 79.8C65.9 80.4 67.2 81.6 68.7 82.1C70.1 82.7 72.6 82.8 73.4 82.9M68.7 82.1C69 82 70.1 81.5 70.8 81.2C71.5 80.9 72.3 80.5 73 80.3C73.8 80.1 75 80 75.3 79.9M42.5 66C42.3 66.6 41.7 68.5 41.1 69.7C40.6 70.9 40 72.1 39.3 73.2C38.6 74.3 37.2 75.8 36.8 76.3M39.3 73.2C39.4 73.5 39.6 74.5 39.6 75.2C39.7 75.8 39.7 76.5 39.7 77.1C39.7 77.8 39.7 78.8 39.7 79.1M48.2 77.7C48.4 78.5 48.7 81 49.1 82.6C49.4 84.2 50.3 85.9 50.2 87.5C50 89.1 48.6 91.6 48.3 92.4M50.2 87.5C50 87.8 49.3 88.9 48.9 89.6C48.5 90.3 48 91 47.6 91.7C47.1 92.4 46.6 93.4 46.4 93.8M57.1 89.3C56.9 90.2 56.5 92.6 56.1 94.3C55.8 95.9 55.4 97.5 55.1 99.2C54.8 100.8 54.4 103.3 54.2 104.1M38.1 79.1C37.9 79.8 37.2 82 37.1 83.5C36.9 85 37 86.5 37 88C37 89.5 37 91.7 37 92.5M34.7 78.4C35 78.9 35.9 80.7 36.6 81.6C37.4 82.6 38.4 83.3 39.5 83.9C40.5 84.6 42.4 85.2 42.9 85.5M39.5 83.9C39.6 84.2 40.2 85 40.5 85.5C40.7 86 41 86.6 41.1 87.2C41.3 87.8 41.3 88.7 41.3 89.1M36.5 84.2C36.1 84.6 34.5 85.7 33.8 86.6C33.1 87.5 32.7 88.6 32.3 89.7C31.9 90.8 31.7 92.6 31.5 93.1M32.3 89.7C32.3 90 32 90.8 32 91.4C31.9 92 31.9 92.5 32 93.1C32 93.7 32.3 94.5 32.4 94.8M38.9 89.9C39.5 90.3 41.2 91.6 42.5 92.2C43.8 92.9 45.1 93.3 46.5 93.8C47.8 94.2 50 94.5 50.7 94.7M18.1 74.9C17.9 75 17.1 75.5 16.6 75.8C16.2 76.1 15.7 76.4 15.2 76.8C14.8 77.1 14.1 77.7 13.9 77.9M-13.4 72.3C-13.2 73.3 -13.2 76.5 -12.5 78.2C-11.7 80 -10.3 81.2 -8.9 82.5C-7.5 83.7 -5 85.3 -4.2 85.9M-15 71.1C-14.9 71.7 -14.9 73.4 -14.8 74.6C-14.6 75.8 -14.5 76.9 -14.2 78C-13.9 79.1 -13.1 80.8 -12.9 81.3M-30.2 85C-30 85.4 -29.3 86.6 -28.9 87.5C-28.4 88.4 -28.3 89.4 -27.7 90.2C-27.1 91 -25.7 91.7 -25.3 92M-30.8 91.2C-30.2 91.8 -28.3 93.3 -27.5 94.6C-26.7 95.9 -26.5 97.5 -26.1 98.9C-25.6 100.3 -24.9 102.5 -24.7 103.2M-26.1 98.9C-25.8 99.2 -25 100.3 -24.4 100.7C-23.7 101.1 -22.9 101.1 -22.1 101.2C-21.4 101.4 -20.2 101.4 -19.8 101.4M-47.8 80.7C-47.5 81.4 -46.5 83.5 -46.1 84.9C-45.8 86.3 -45.5 87.7 -45.6 89.1C-45.8 90.6 -46.7 92.8 -46.9 93.5M-45.6 89.1C-45.7 89.5 -45.9 90.6 -46.1 91.3C-46.4 91.9 -46.8 92.5 -47.1 93.2C-47.5 93.8 -48.2 94.7 -48.4 95M-53.4 92C-53.8 92.3 -55.1 92.9 -56 93.4C-56.9 93.8 -57.9 94.1 -58.7 94.7C-59.5 95.2 -60.5 96.3 -60.9 96.7M-54.5 87.8C-54.8 88.7 -56.1 91.3 -56.1 92.9C-56.2 94.5 -55.6 96.1 -55.1 97.6C-54.5 99.2 -53.2 101.4 -52.8 102.2M-55.1 97.6C-54.9 98 -54.4 99.2 -53.9 99.8C-53.4 100.4 -52.7 100.8 -52.1 101.4C-51.5 101.9 -50.6 102.8 -50.3 103.1M-54.9 76.9C-55.7 77 -58.3 77 -59.9 77.4C-61.4 77.9 -62.8 78.6 -64 79.6C-65.3 80.6 -66.8 82.7 -67.4 83.3M-57.9 69.9C-58.7 69.7 -61.2 69 -62.8 68.7C-64.4 68.3 -66 67.9 -67.7 67.6C-69.3 67.3 -71.8 67.1 -72.6 67M-67.7 67.6C-68 67.7 -69.2 68.2 -70 68.4C-70.8 68.7 -71.6 69 -72.4 69.1C-73.2 69.2 -74.5 69.3 -74.9 69.3M-65.4 77.9C-65.8 78.4 -67.1 79.6 -67.7 80.6C-68.2 81.6 -68.5 82.7 -68.9 83.8C-69.3 84.8 -69.8 86.5 -70 87M-53.5 36.2C-53.9 36.1 -55.2 36 -56 35.8C-56.9 35.6 -57.7 35.2 -58.5 34.9C-59.3 34.6 -60.5 34.1 -60.9 33.9M-64.9 65.5C-65.5 65.5 -67.3 65.3 -68.4 65.5C-69.6 65.6 -70.7 65.9 -71.8 66.3C-72.8 66.6 -74.5 67.3 -75 67.5M-71.8 66.3C-72.1 66.3 -73 66.5 -73.6 66.4C-74.2 66.3 -74.6 65.9 -75.2 65.7C-75.7 65.4 -76.4 64.9 -76.7 64.7M-69.8 73.7C-69.9 74.4 -70.5 76.8 -70.5 78.2C-70.4 79.7 -69.8 81.1 -69.5 82.6C-69.1 84.1 -68.5 86.2 -68.3 87M-69.5 82.6C-69.2 82.9 -68.3 83.6 -67.8 84.2C-67.3 84.8 -66.8 85.3 -66.5 86C-66.2 86.7 -66.2 88 -66.1 88.4M-82.6 68.4C-82.8 68 -83.6 66.9 -84.2 66.2C-84.8 65.5 -85.4 64.9 -86.1 64.2C-86.7 63.6 -87.8 62.8 -88.1 62.5M-66.6 46.6C-67 47.1 -68.2 48.4 -68.7 49.4C-69.1 50.4 -69.3 51.5 -69.6 52.6C-69.9 53.7 -70.2 55.4 -70.4 55.9M-71.7 51.1C-72.1 51.7 -73 53.5 -73.6 54.7C-74.2 55.8 -75.2 57 -75.4 58.3C-75.6 59.6 -75 61.8 -74.9 62.5M-75.4 58.3C-75.6 58.5 -76.3 59.2 -76.7 59.8C-77.1 60.3 -77.4 61 -77.9 61.4C-78.5 61.7 -79.7 61.8 -80 61.9M-82 60C-82.1 60.5 -82.1 62 -82.3 63C-82.6 63.9 -83.1 64.8 -83.3 65.8C-83.5 66.7 -83.6 68.2 -83.7 68.7M-79.6 52.2C-79.8 53 -80.5 55.5 -81.2 57C-81.9 58.4 -82.6 59.9 -83.8 61C-84.9 62.1 -87.5 63.1 -88.3 63.5M-87 31.5C-87.4 32 -88.4 33.6 -89.2 34.5C-90 35.5 -90.8 36.4 -91.7 37.3C-92.5 38.2 -93.8 39.6 -94.2 40.1M-91.7 37.3C-91.7 37.6 -91.9 38.6 -91.9 39.2C-91.9 39.8 -91.8 40.4 -91.6 41.1C-91.5 41.7 -91.2 42.6 -91.1 42.9M-95.2 33.7C-96 34.3 -98.3 36.4 -100 37C-101.7 37.7 -103.6 37.7 -105.4 37.9C-107.3 38 -110.1 38.1 -111 38.1M-105.4 37.9C-105.9 37.7 -107.1 37.1 -108 36.8C-108.8 36.5 -109.7 36.3 -110.5 35.9C-111.4 35.5 -112.5 34.8 -113 34.6M-74.8 17.4C-75.1 17.9 -76 19.5 -76.7 20.5C-77.4 21.5 -78.2 22.4 -79 23.3C-79.9 24.2 -81.3 25.3 -81.8 25.7M-79 23.3C-79.4 23.3 -80.4 23.1 -81 23.2C-81.6 23.3 -82.2 23.5 -82.7 23.9C-83.2 24.2 -83.9 25 -84.1 25.2" stroke="#cc3f2b" stroke-width="0.625" stroke-opacity="0.72"/>
<path d="M-90.3 -41.4C-90.6 -41.3 -91.6 -41.1 -92.1 -40.8C-92.6 -40.5 -93.3 -39.8 -93.5 -39.6M-90.3 -41.4C-90.8 -41.7 -92.4 -42.6 -93.3 -43.3C-94.3 -43.9 -95.8 -44.9 -96.3 -45.2M-46.5 -75.4C-46.8 -76.4 -47.6 -79.4 -48.3 -81.3C-49 -83.2 -50.4 -86 -50.8 -86.9M-33.7 -85.3C-33.9 -86 -34.4 -88.1 -35.2 -89.2C-35.9 -90.4 -37.6 -91.8 -38 -92.4M15.8 -72.5C15.7 -72.7 15.3 -73.4 15.1 -73.8C14.9 -74.2 14.7 -74.9 14.6 -75.1M74.6 -55.8C75.1 -56.3 76.7 -57.9 77.7 -59.1C78.7 -60.2 79.9 -62.1 80.4 -62.7M74.6 -55.8C75.5 -56.4 78.1 -58.7 80.1 -59.6C82.1 -60.5 85.5 -61.1 86.5 -61.4M80.5 -50.3C81.5 -50.4 84.7 -50 86.5 -50.6C88.4 -51.2 90.8 -53.2 91.7 -53.7M80.8 -9.4C81.1 -9.4 82.2 -9.2 82.9 -9C83.6 -8.9 84.6 -8.5 84.9 -8.4M76.3 19.8C76.1 19.5 75.5 18.8 75.1 18.4C74.6 18 73.7 17.6 73.5 17.5M84.8 57.5C85 57.4 85.8 57.1 86.3 56.7C86.7 56.4 87.2 55.7 87.4 55.5M67.7 57.5C68.4 58.3 70.6 60.5 72 62C73.4 63.5 74.7 65.1 76.2 66.5C77.7 68 80.1 69.9 80.9 70.6M59.9 62.9C60.9 64 64.2 66.8 65.6 69.2C67 71.6 67.9 75.9 68.4 77.3M-40.9 85.6C-42 86.5 -45.7 88.7 -47.5 90.8C-49.3 92.9 -50.8 96.9 -51.5 98.1M-80.6 68.2C-80.4 68.2 -79.8 68 -79.5 68.1C-79.1 68.1 -78.6 68.5 -78.4 68.5M-93.5 31.7C-93.8 32 -94.8 33 -95.2 33.7C-95.6 34.5 -95.6 35.9 -95.7 36.4M-93.5 31.7C-94.2 31.7 -96.3 31.8 -97.7 32C-99.1 32.2 -101 32.9 -101.7 33.1" stroke="#cc3f2b" stroke-width="0.750" stroke-opacity="0.78"/>
<path d="M-41.4 -56.2C-41.7 -56.6 -42.4 -57.6 -42.9 -58.2C-43.4 -58.8 -44 -59.4 -44.5 -60C-45.1 -60.6 -45.7 -61.6 -46 -62M-32.8 -49.9C-33.4 -50.3 -35.1 -51.5 -36.3 -52.3C-37.4 -53.1 -38.6 -53.8 -39.8 -54.6C-41 -55.4 -42.8 -56.5 -43.4 -56.9M19.4 -55C19.2 -55.7 18.5 -57.5 18.3 -58.8C18.1 -60.1 18.1 -61.3 18.3 -62.6C18.5 -63.8 19.1 -65.7 19.3 -66.4M37 -49.4C37.5 -49.6 39.2 -50.2 40.3 -50.4C41.4 -50.5 42.5 -50.4 43.6 -50.4C44.7 -50.4 46.4 -50.3 47 -50.2M40.2 -26.6C41.2 -26.7 44.1 -27.4 45.9 -27.3C47.8 -27.1 49.4 -26.3 51.1 -25.5C52.7 -24.8 55.1 -23.1 55.9 -22.7M45.1 -31C45.8 -31.3 47.6 -32.5 49 -32.9C50.3 -33.2 51.8 -33.1 53.2 -33.3C54.6 -33.5 56.6 -33.9 57.3 -34M52.1 -12.7C52.2 -13.2 52.4 -14.8 52.7 -15.8C53 -16.8 53.3 -17.7 53.8 -18.6C54.3 -19.5 55.4 -20.7 55.7 -21.1M58.5 -15.7C58.9 -16.2 60 -17.6 60.8 -18.5C61.5 -19.5 62.3 -20.4 63 -21.4C63.7 -22.4 64.7 -23.9 65 -24.4M65 -18.5C65.2 -19.4 65.8 -21.9 66.2 -23.6C66.6 -25.4 66.6 -27.2 67.3 -28.8C68.1 -30.4 70 -32.5 70.6 -33.2M51.6 -9C52.1 -8.6 53.7 -7.2 54.8 -6.5C56 -5.8 57.3 -5.4 58.5 -4.7C59.7 -4.1 61.3 -2.9 61.9 -2.6M54.9 17.7C55.2 18.2 56.2 19.6 56.9 20.4C57.6 21.2 58.5 22 59.3 22.7C60.2 23.4 61.6 24.2 62.1 24.5M53.3 18.8C53.9 18.7 56 18.7 57.1 18.1C58.1 17.6 58.7 16.5 59.6 15.6C60.4 14.8 61.7 13.5 62.1 13.1M70.9 27.7C71.6 27.9 73.8 28.4 75.3 28.7C76.8 28.9 78.3 28.8 79.8 29.2C81.3 29.5 83.4 30.4 84.1 30.7M38.7 32.4C39.6 32.7 42.1 33.5 43.8 34C45.5 34.5 47.3 34.6 48.9 35.4C50.5 36.1 52.5 38.1 53.2 38.6M37.2 53.2C37.9 53.4 40 53.8 41.5 54.1C42.9 54.4 44.6 54.1 45.9 54.8C47.1 55.4 48.6 57.5 49.2 58.1M45.9 54.8C46.2 55 47.3 55.6 47.8 56.1C48.2 56.6 48.5 57.3 48.8 58C49.1 58.7 49.4 59.8 49.5 60.1M19.8 68.2C19.7 68.8 19.3 70.5 19 71.6C18.7 72.7 18.4 73.8 18.1 74.9C17.8 76 17.5 77.7 17.4 78.3M10.8 56.1C10 56.6 7 58 5.8 59.5C4.6 60.9 4.4 63 3.7 64.7C3.1 66.5 2.1 69.2 1.7 70.1M3.7 64.7C3.9 65.2 4.7 66.5 5 67.4C5.3 68.2 5.5 69.1 5.6 70.1C5.6 71 5.2 72.5 5.1 73M-43.1 35.9C-44 36 -46.6 36.1 -48.3 36.1C-50 36.2 -51.8 35.8 -53.5 36.2C-55.2 36.6 -57.5 38 -58.3 38.4M-50.3 36.5C-50.9 36 -52.8 34.2 -54.1 33.2C-55.4 32.1 -56.6 30.9 -58.2 30.3C-59.7 29.8 -62.5 29.9 -63.4 29.8M-56.1 39C-56.3 39.6 -56.9 41.4 -57.3 42.6C-57.6 43.9 -57.6 45.3 -58.4 46.3C-59.2 47.3 -61.3 48.2 -61.9 48.6" stroke="#cc3f2b" stroke-width="0.750" stroke-opacity="0.72"/>
<path d="M-71.9 -8.3C-71.7 -8.2 -71 -7.6 -70.6 -7.3C-70.2 -7 -69.4 -6.6 -69.2 -6.4M-71.9 -8.3C-72.7 -8.5 -75.2 -8.6 -76.7 -9.1C-78.2 -9.7 -80.1 -11.3 -80.8 -11.7M-84.9 -23.4C-85.6 -23.5 -87.6 -23.7 -88.9 -23.9C-90.2 -24.1 -92.2 -24.5 -92.9 -24.6M-76.6 -31.1C-77.7 -31.6 -80.9 -33.3 -83.1 -34.3C-85.3 -35.3 -87.4 -36.3 -89.6 -37.2C-91.8 -38 -94 -39.1 -96.4 -39.3C-98.7 -39.5 -102.7 -38.5 -103.9 -38.3M-63.7 -61.1C-64.9 -62 -68.1 -64.7 -70.5 -66.3C-72.8 -67.9 -76.5 -70.1 -77.7 -70.8M-63.7 -61.1C-64.6 -62 -67.7 -64.5 -69.2 -66.6C-70.7 -68.7 -72 -72.4 -72.6 -73.5M-58.4 -68.6C-58.5 -69.3 -58.7 -71.5 -59.2 -72.8C-59.8 -74.1 -61.4 -75.7 -61.9 -76.2M-46.5 -75.4C-47 -76.2 -48.3 -78.9 -49.5 -80.3C-50.7 -81.7 -53.1 -83.4 -53.9 -84M-41.4 -82.7C-41.7 -83.4 -42.6 -85.5 -43.4 -86.8C-44.3 -88 -46 -89.6 -46.5 -90.2M-41.4 -82.7C-41.7 -83.7 -43.4 -86.6 -43.7 -88.6C-44.1 -90.7 -43.6 -93.9 -43.6 -95M-33.7 -85.3C-33.5 -85.9 -33.2 -87.8 -32.9 -89C-32.6 -90.2 -32 -92 -31.8 -92.6M-21.6 -80.8C-22.2 -81.9 -24.3 -85.2 -25.3 -87.6C-26.3 -90 -26.8 -92.6 -27.7 -95.1C-28.6 -97.5 -30.3 -101 -30.8 -102.2M-21.6 -80.8C-21.8 -81.8 -22.8 -84.8 -22.9 -86.8C-23 -88.8 -22.2 -91.9 -22.1 -93M-12.9 -77.1C-13.2 -77.2 -14 -77.6 -14.4 -78C-14.8 -78.3 -15.2 -79.1 -15.3 -79.4M-12.9 -77.1C-12.5 -76.4 -10.8 -74.6 -10.3 -73.2C-9.7 -71.7 -9.9 -69.2 -9.8 -68.4M15.8 -72.5C16 -72.8 17 -73.5 17.3 -74.1C17.6 -74.8 17.5 -76 17.5 -76.3M38.5 -80.1C38.9 -81.1 40.4 -83.9 40.9 -85.9C41.4 -87.8 41.3 -91 41.3 -92M56.4 -81.8C56.7 -81.8 57.3 -81.9 57.8 -81.9C58.3 -82 59 -82 59.2 -82M66.3 -71.9C66.7 -72.5 68.2 -74.4 68.9 -75.9C69.6 -77.3 70.2 -79.6 70.5 -80.4M66.3 -71.9C66.9 -72.2 68.5 -73.4 69.7 -74.2C70.8 -74.9 72.6 -75.9 73.1 -76.3M69.3 -62.9C69.6 -63.5 70.7 -65.2 71.3 -66.3C71.9 -67.5 72.7 -69.3 73 -69.9M69.3 -62.9C69.8 -63.1 71.3 -63.3 72.1 -63.8C73 -64.2 74 -65.3 74.4 -65.6M80.5 -50.3C80.9 -50.6 82 -51.3 82.5 -51.9C83.1 -52.5 83.7 -53.6 83.9 -53.9M77.9 -35.9C78.6 -36.9 80.4 -40 82 -41.6C83.6 -43.3 86.6 -45.2 87.5 -45.9M77.9 -35.9C79.4 -36.2 83.9 -36.8 86.6 -37.8C89.4 -38.7 93.3 -41 94.7 -41.6M94.3 -33.8C94.8 -34.1 96.3 -34.9 97.2 -35.7C98.1 -36.4 99.2 -37.7 99.6 -38.2M94.3 -33.8C95 -33.8 96.9 -33.4 98.2 -33.5C99.5 -33.5 101.4 -34.2 102.1 -34.3M95.7 -26.6C95.8 -26.7 96 -27.3 96.2 -27.6C96.3 -28 96.6 -28.5 96.6 -28.7M95.7 -26.6C95.7 -26.4 95.6 -25.8 95.6 -25.4C95.7 -25 95.8 -24.4 95.8 -24.2M80.8 -9.4C82.1 -9.5 86 -9 88.4 -9.8C90.7 -10.5 93.7 -13.2 94.8 -13.8M76.3 19.8C76.6 20.1 77.6 21.1 78.4 21.6C79.2 22 80.6 22.3 81 22.4M84.8 57.5C85.2 58.1 86.3 59.9 87.3 60.9C88.2 62 89.9 63.2 90.5 63.7M67.7 57.5C69 58 72.8 59.1 75.1 60.3C77.4 61.4 80.6 63.8 81.7 64.4M59.9 62.9C60.9 63.9 63.8 67 65.9 68.7C68.1 70.5 71.6 72.7 72.8 73.4M56.5 74.2C57.2 74.8 59.3 76.5 60.8 77.5C62.2 78.6 64.5 80 65.2 80.5M52.4 82.8C53.2 83.9 56.1 86.9 57.1 89.3C58.1 91.7 58.4 95.9 58.6 97.2M40.8 95.8C41.1 96.1 42.1 97.1 42.8 97.7C43.5 98.2 44.7 99 45.1 99.2M-40.9 85.6C-41 86.8 -40.8 90.5 -41.5 92.8C-42.2 95 -44.4 98 -45 99.1M-53.3 86.2C-53.3 87.2 -52.9 90.2 -53.4 92C-53.8 93.9 -55.4 96.5 -55.9 97.4M-53.3 86.2C-53.5 86.5 -54 87.4 -54.5 87.8C-55 88.3 -55.9 88.8 -56.2 89M-63.6 76.9C-63.6 77.4 -63.6 78.8 -63.8 79.8C-64 80.7 -64.6 82 -64.7 82.4M-63.6 76.9C-63.9 77.1 -64.9 77.5 -65.4 77.9C-66 78.3 -66.8 79.1 -67 79.3M-69.5 69.6C-69.6 70.3 -69.3 72.5 -69.8 73.7C-70.2 74.9 -71.8 76.4 -72.3 76.9M-69.5 69.6C-70.4 70.4 -72.7 72.8 -74.5 74C-76.3 75.3 -79.4 76.6 -80.4 77.1M-80.6 68.2C-80.9 68.2 -81.9 68.4 -82.6 68.4C-83.2 68.4 -84.2 68.4 -84.6 68.4M-79.8 43.4C-80.5 44.3 -82.2 47.2 -83.9 48.5C-85.5 49.8 -88.8 50.7 -89.8 51.2M-79.8 43.4C-80.6 43.7 -82.9 44.7 -84.5 45.1C-86.1 45.5 -88.7 45.6 -89.5 45.7" stroke="#cc3f2b" stroke-width="0.875" stroke-opacity="0.78"/>
<path d="M-15.6 -25.6C-15.9 -26.5 -17.7 -29.3 -17.8 -31C-18 -32.8 -16.9 -34.5 -16.4 -36.3C-15.9 -38 -15 -40.6 -14.7 -41.5M-26.8 -32.5C-27.3 -32.2 -28.8 -31.1 -29.8 -30.7C-30.9 -30.3 -32.1 -30.3 -33.2 -30.1C-34.3 -30 -36.1 -29.9 -36.6 -29.8M-39.6 -46.7C-39.9 -47.4 -40.9 -49.7 -41.2 -51.3C-41.5 -52.9 -41.2 -54.6 -41.4 -56.2C-41.6 -57.8 -42.2 -60.2 -42.3 -61M-11.2 -26.5C-10.8 -27 -9.7 -28.5 -8.9 -29.4C-8.1 -30.4 -7.6 -31.6 -6.6 -32.4C-5.6 -33.2 -3.7 -33.8 -3.1 -34M-6.6 -32.4C-6.3 -32.3 -5.3 -31.9 -4.7 -31.8C-4.1 -31.7 -3.5 -31.7 -2.9 -31.8C-2.3 -32 -1.3 -32.4 -1 -32.6M-10.9 -32.9C-10.7 -33.6 -10.5 -35.6 -9.9 -36.7C-9.4 -37.9 -8.4 -38.7 -7.6 -39.6C-6.7 -40.5 -5.1 -41.7 -4.7 -42.1M-13.4 -38.8C-13.8 -38.9 -15.1 -39.3 -15.9 -39.6C-16.8 -39.9 -17.7 -40.2 -18.5 -40.5C-19.4 -40.8 -20.7 -41.2 -21.1 -41.3M16.1 -36.4C16.1 -36.9 16.6 -38.6 16.4 -39.6C16.3 -40.7 15.6 -41.6 15.1 -42.5C14.7 -43.4 14 -44.8 13.7 -45.3M27.8 -38.2C27.9 -38.8 28.1 -40.8 28.1 -42.2C28.2 -43.5 27.9 -44.9 28.2 -46.2C28.5 -47.5 29.6 -49.3 29.9 -49.9M28.2 -46.2C28.4 -46.4 29.3 -46.9 29.9 -47.2C30.5 -47.6 31.2 -47.8 31.6 -48.2C32.1 -48.7 32.5 -49.7 32.7 -50M25.3 -13.2C25.9 -13.4 27.7 -14.2 29 -14.5C30.2 -14.9 31.5 -15.1 32.8 -15.1C34.1 -15.2 36.1 -14.9 36.7 -14.8M32.8 -15.1C33.1 -15.3 34 -15.7 34.5 -16.2C35 -16.6 35.3 -17.1 35.7 -17.6C36.1 -18.2 36.7 -19 36.9 -19.2M29.9 -18.2C29.7 -19 29 -21.6 28.6 -23.3C28.2 -25 28 -26.8 27.6 -28.5C27.2 -30.2 26.4 -32.7 26.2 -33.5M27.6 -28.5C27.6 -28.9 27.5 -30.3 27.7 -31.2C27.9 -32 28.4 -32.8 28.7 -33.6C29 -34.5 29.5 -35.7 29.6 -36.1M29.3 22.6C29.5 23.2 30.1 25 30.3 26.3C30.6 27.5 30.9 28.8 31 30C31 31.3 30.9 33.3 30.9 33.9M31 30C31.1 30.3 31.7 31.1 32.1 31.6C32.4 32.1 32.8 32.6 33.2 33.1C33.6 33.6 34.3 34.3 34.5 34.5M15.4 27.2C15.6 27.9 16.1 30.1 16.3 31.5C16.6 33 16.7 34.5 16.9 35.9C17.2 37.4 17.7 39.5 17.8 40.3M10.4 41.3C10 41.7 8.5 43.1 7.8 44.1C7.1 45.1 6.5 46.2 6.1 47.4C5.7 48.6 5.5 50.6 5.3 51.2M-13 38.8C-12.7 39.3 -11.7 40.6 -11.1 41.5C-10.4 42.3 -9.8 43.2 -9.2 44.1C-8.6 45 -7.7 46.4 -7.4 46.8M-19.4 59.4C-19.8 59.8 -21 61.2 -21.9 62C-22.8 62.8 -23.7 63.7 -24.8 64.1C-25.9 64.6 -27.9 64.7 -28.5 64.8M-15.8 29.1C-16.6 29.4 -19 30.1 -20.6 30.4C-22.2 30.8 -23.8 31.1 -25.5 31.2C-27.1 31.2 -29.6 31 -30.5 30.9M-48.1 16.9C-48.5 16.4 -49.5 14.7 -50.3 13.7C-51.1 12.8 -52 11.9 -53 11.1C-54 10.3 -55.6 9.2 -56.1 8.8" stroke="#cc3f2b" stroke-width="0.875" stroke-opacity="0.72"/>
<path d="M40.8 95.8C40.7 95.8 40.2 96.1 40 96.3C39.7 96.5 39.2 96.7 39.1 96.8" stroke="#cc3f2b" stroke-width="0.875" stroke-opacity="0.88"/>
<path d="M-84.9 -23.4C-85.6 -23.7 -87.8 -24.6 -89 -25.5C-90.2 -26.4 -91.6 -28.4 -92.2 -28.9M-76.6 -31.1C-78 -31.7 -82.3 -33 -84.6 -34.7C-86.9 -36.5 -89.4 -40.3 -90.3 -41.4M-67.3 -39.3C-68.3 -39.7 -71.6 -40.5 -73.7 -41.4C-75.7 -42.2 -77.7 -43.2 -79.4 -44.4C-81.2 -45.6 -82.8 -47.1 -84.3 -48.7C-85.9 -50.3 -87.8 -53.1 -88.5 -54M-58.4 -68.6C-58.9 -69 -60.6 -70.4 -61.8 -71.1C-63.1 -71.7 -65.1 -72.3 -65.8 -72.6M-38.9 -61.5C-39.8 -62.5 -42.9 -65.3 -44.1 -67.7C-45.4 -70 -46.1 -74.1 -46.5 -75.4M-26.3 -62.5C-26.5 -63.9 -26.2 -68.1 -27 -70.7C-27.9 -73.2 -30.3 -75.2 -31.4 -77.7C-32.5 -80.1 -33.3 -84 -33.7 -85.3M38.5 -80.1C39.3 -81.1 41.7 -84 43.3 -86C44.9 -87.9 47.3 -90.8 48.1 -91.7M56.4 -81.8C56.4 -82.2 56.2 -83.6 56.3 -84.5C56.4 -85.4 56.9 -86.7 57 -87.1M48.8 -57.6C50 -58 53.9 -59.2 56.1 -60.5C58.2 -61.9 59.9 -63.8 61.6 -65.7C63.3 -67.6 65.5 -70.8 66.3 -71.9M52.2 -42.3C53 -43.2 55 -46.1 56.8 -47.5C58.5 -48.8 60.7 -49.4 62.7 -50.3C64.7 -51.1 67 -51.6 69 -52.5C70.9 -53.4 73.7 -55.2 74.6 -55.8M59.5 -33.3C60.3 -34.1 62.5 -36.7 64.1 -38.3C65.7 -39.9 67.3 -41.5 69.1 -42.9C70.9 -44.3 73 -45.3 74.9 -46.5C76.8 -47.7 79.6 -49.7 80.5 -50.3M70.4 -23.4C71.6 -23.3 75.4 -22.8 77.7 -23C79.9 -23.3 82 -23.8 83.9 -24.9C85.8 -26 87.3 -28.1 89 -29.6C90.8 -31.1 93.4 -33.1 94.3 -33.8M70.4 -23.4C71.4 -23.6 74.6 -24.2 76.7 -24.5C78.8 -24.8 80.9 -25.1 83 -25.2C85.2 -25.4 87.3 -25.4 89.4 -25.7C91.5 -25.9 94.7 -26.4 95.7 -26.6M63.7 -9.2C64.7 -9.8 67.6 -11.5 69.5 -12.7C71.4 -13.9 73.3 -15.4 75.3 -16.3C77.3 -17.2 79.5 -17.7 81.7 -18.1C83.9 -18.5 86.2 -18.4 88.5 -18.7C90.7 -19 94 -19.6 95.1 -19.8M63.7 -9.2C65.1 -9.3 69.4 -9.8 72.2 -9.9C75.1 -9.9 79.4 -9.5 80.8 -9.4M63.4 17.5C64.5 17.7 67.8 18 69.9 18.3C72.1 18.7 75.2 19.5 76.3 19.8M63.4 17.5C64.2 18.5 66.4 21.8 68.2 23.3C70 24.7 72.1 25.5 74.3 26.3C76.4 27.1 78.8 27.4 81.1 28C83.3 28.6 86.7 29.4 87.8 29.7M75.6 32.8C77 32.7 81.1 32 83.6 32.3C86.2 32.6 88.5 33.7 90.7 34.9C93 36 96.2 38.6 97.2 39.3M75.6 32.8C76.5 33.5 78.7 35.7 80.5 36.8C82.3 37.8 84.5 38.2 86.4 39.1C88.3 40 90.1 41.1 91.8 42.2C93.6 43.3 96.1 45.2 97 45.8M64.9 39.6C65.8 40.4 68.3 43.2 70.2 44.6C72.1 46 74.1 47.1 76.2 47.9C78.4 48.8 80.8 49 83 49.7C85.2 50.4 87.3 51.4 89.5 52.1C91.7 52.8 95.1 53.6 96.2 53.9M64.9 39.6C66 40 69.5 41.2 71.6 42.2C73.8 43.1 76.3 43.7 77.8 45.2C79.4 46.8 79.9 49.6 81.1 51.6C82.2 53.7 84.1 56.5 84.8 57.5M48.8 43.7C49.8 44.6 52.7 47.2 54.7 48.9C56.8 50.5 58.9 52 61 53.5C63.2 54.9 66.6 56.9 67.7 57.5M48.8 43.7C49.7 44.6 52.4 47.3 54 49.3C55.6 51.2 57.2 53.1 58.2 55.4C59.2 57.7 59.6 61.7 59.9 62.9M56.5 74.2C57.1 74.9 59.3 76.7 60.1 78.2C60.9 79.7 61.2 82.5 61.5 83.3M52.4 82.8C53 83.2 54.9 84.3 55.9 85.2C56.9 86.2 58 88 58.4 88.6M23.6 74.5C23.6 75.9 23.3 79.8 23.8 82.4C24.3 84.9 26.1 88.5 26.5 89.7M-20.4 83.9C-20.5 84.5 -20.5 86.1 -20.5 87.2C-20.5 88.3 -20.4 90 -20.3 90.5M-20.4 83.9C-20.6 84.5 -20.9 86.5 -21.5 87.6C-22.1 88.8 -23.6 90.1 -24 90.6M-36.3 70.3C-36.8 71.5 -39 75.1 -39.7 77.6C-40.5 80.2 -40.7 84.3 -40.9 85.6M-53.9 50.7C-54.4 51.6 -55.8 54.4 -56.9 56.1C-58 57.9 -59.3 59.5 -60.6 61C-61.9 62.6 -63.4 64 -64.9 65.5C-66.4 66.9 -68.8 68.9 -69.5 69.6M-53.9 50.7C-54.5 51.6 -56.3 54.6 -57.8 56.4C-59.2 58.1 -60.6 59.9 -62.3 61.1C-64.1 62.3 -66.3 62.8 -68.3 63.6C-70.3 64.4 -72.4 65.2 -74.4 65.9C-76.5 66.7 -79.6 67.8 -80.6 68.2M-61.6 42C-62.5 42.7 -64.9 45.1 -66.6 46.6C-68.3 48.1 -70 49.6 -71.7 51.1C-73.4 52.6 -75.1 54.2 -76.8 55.7C-78.5 57.2 -80.2 58.6 -82 60C-83.8 61.4 -86.6 63.4 -87.6 64M-61.6 42C-62.6 42.5 -65.7 44 -67.7 45.3C-69.6 46.5 -71.2 48.4 -73.2 49.5C-75.2 50.7 -77.4 51.4 -79.6 52.2C-81.7 53.1 -84.9 54.3 -86 54.7M-80.5 31.6C-81.8 32 -85.9 32.8 -88.1 34.2C-90.3 35.6 -92.8 39 -93.7 39.9M-80.5 31.6C-81.6 31.6 -84.9 31.5 -87 31.5C-89.2 31.5 -92.5 31.6 -93.5 31.7M-82.8 15.7C-83.4 15.9 -85.4 16.3 -86.7 16.8C-87.9 17.3 -89.6 18.5 -90.2 18.8M-82.8 15.7C-82.5 15.4 -81.7 14.6 -81.1 14.2C-80.5 13.8 -79.4 13.4 -79 13.3" stroke="#da432b" stroke-width="1" stroke-opacity="0.88"/>
<path d="M-56.8 -8C-58 -7.8 -61.8 -6.8 -64.4 -6.9C-66.9 -6.9 -70.6 -8.1 -71.9 -8.3M-56.8 -8C-57.9 -8.1 -61.3 -8.6 -63.6 -8.7C-65.9 -8.9 -68.4 -8.6 -70.6 -9C-72.8 -9.5 -75 -10.1 -77 -11.3C-78.9 -12.5 -81.5 -15.6 -82.4 -16.4M-60.9 -21.3C-61.9 -21.7 -64.8 -23.2 -66.7 -23.8C-68.7 -24.5 -70.7 -25.2 -72.7 -25.4C-74.7 -25.6 -76.7 -25.4 -78.7 -25C-80.8 -24.7 -83.9 -23.7 -84.9 -23.4M-60.9 -21.3C-61.8 -21.8 -64.5 -23.4 -66.3 -24.4C-68 -25.4 -69.9 -26.3 -71.6 -27.4C-73.4 -28.5 -75.8 -30.5 -76.6 -31.1M-67.3 -39.3C-68.2 -40 -71.2 -42.1 -73.2 -43.4C-75.3 -44.6 -77.4 -45.6 -79.5 -46.6C-81.7 -47.6 -83.8 -48.7 -86.1 -49.3C-88.4 -49.9 -92.1 -50.1 -93.3 -50.3M-65 -49.1C-65.8 -50 -68.2 -52.8 -69.8 -54.7C-71.5 -56.6 -72.9 -58.6 -74.7 -60.4C-76.4 -62.1 -79.4 -64.4 -80.3 -65.2M-45.4 -49.6C-46.2 -50.7 -48.1 -54.5 -50 -55.9C-51.9 -57.4 -54.5 -57.7 -56.8 -58.6C-59.1 -59.4 -62.6 -60.7 -63.7 -61.1M-45.4 -49.6C-46.3 -50.6 -49 -53.4 -50.6 -55.4C-52.2 -57.3 -54 -59.2 -55.3 -61.4C-56.5 -63.6 -57.8 -67.4 -58.4 -68.6M-38.9 -61.5C-39.9 -61.9 -43.2 -62.9 -45 -64C-46.8 -65 -48.4 -66.2 -49.9 -67.6C-51.4 -69 -52.6 -70.5 -53.9 -72.1C-55.1 -73.7 -56.3 -75.4 -57.3 -77.2C-58.3 -79 -59.4 -82.2 -59.8 -83.1M-26.3 -62.5C-26.9 -63.4 -28.5 -66.1 -29.8 -67.8C-31.1 -69.4 -32.9 -70.7 -34.2 -72.3C-35.5 -74 -36.4 -75.9 -37.6 -77.7C-38.8 -79.4 -40.7 -81.9 -41.4 -82.7M-14.1 -62.8C-14.3 -63.9 -14.8 -67.2 -15.5 -69.3C-16.1 -71.4 -17 -73.3 -18.1 -75.2C-19.1 -77.1 -21 -79.8 -21.6 -80.8M-14.1 -62.8C-13.7 -64 -11.7 -67.4 -11.5 -69.8C-11.3 -72.2 -12.7 -75.9 -12.9 -77.1M16.3 -64.2C16.3 -64.9 16.6 -67 16.5 -68.4C16.5 -69.8 15.9 -71.8 15.8 -72.5M16.3 -64.2C16.7 -65.2 18.3 -68.1 18.8 -70.2C19.3 -72.4 19 -74.8 19.5 -77C20 -79.1 20.6 -81.2 21.7 -83.1C22.8 -85 24.8 -86.6 25.9 -88.5C27.1 -90.4 28.1 -93.5 28.5 -94.5M27.3 -64.3C27.6 -65.4 28.3 -68.9 28.9 -71.2C29.6 -73.5 30.4 -75.7 31 -78C31.7 -80.3 32.4 -82.5 33 -84.8C33.6 -87.1 34.1 -89.4 34.8 -91.7C35.5 -94 36.8 -97.3 37.2 -98.4M27.3 -64.3C27.8 -65.2 29.2 -68.2 30.4 -70C31.5 -71.8 33 -73.4 34.4 -75.1C35.7 -76.8 37.8 -79.3 38.5 -80.1M43 -65C43.2 -66.2 43.7 -69.8 44.2 -72.1C44.8 -74.4 45.7 -76.6 46.5 -78.8C47.4 -81 48.1 -83.3 49.2 -85.4C50.2 -87.5 52.2 -90.6 52.8 -91.6M43 -65C43.5 -66.1 44.8 -69.6 46.2 -71.6C47.6 -73.6 49.4 -75.1 51.1 -76.8C52.9 -78.5 55.5 -81 56.4 -81.8M48.8 -57.6C49.6 -58.4 52 -60.8 53.5 -62.4C55.1 -64 56.8 -65.6 58.1 -67.4C59.3 -69.2 60.2 -71.3 61 -73.4C61.8 -75.5 62.7 -78.9 63 -80M52.2 -42.3C52.7 -43.4 53.8 -46.8 54.9 -48.8C56 -50.8 57.5 -52.4 58.9 -54.2C60.2 -56 61.2 -58.1 63 -59.5C64.7 -61 68.3 -62.4 69.3 -62.9M59.5 -33.3C60.6 -33.1 63.9 -31.9 66 -31.9C68.1 -31.9 70.1 -32.4 72.1 -33.1C74.1 -33.8 77 -35.4 77.9 -35.9M40.6 59.7C41.6 60.3 44.9 62.1 46.8 63.6C48.7 65 50.6 66.5 52.2 68.3C53.8 70.1 55.8 73.3 56.5 74.2M40.6 59.7C40.9 60.7 41.8 63.9 42.5 66C43.2 68.1 43.6 70.3 44.6 72.2C45.5 74.2 46.9 75.9 48.2 77.7C49.5 79.5 51.7 82 52.4 82.8M31.9 66.4C32.4 67.4 33.8 70.7 34.9 72.8C35.9 74.9 37.1 76.9 38.1 79.1C39.1 81.2 39.6 83.6 40.7 85.7C41.9 87.7 43.2 89.6 44.8 91.4C46.3 93.3 49.1 95.7 50 96.5M31.9 66.4C32.1 67.4 33 70.3 33.4 72.3C33.9 74.3 34.2 76.4 34.7 78.4C35.2 80.3 35.8 82.3 36.5 84.2C37.2 86.1 38.1 88 38.9 89.9C39.6 91.8 40.5 94.8 40.8 95.8M23.6 74.5C24.5 75.5 27.3 78.2 28.7 80.3C30.1 82.3 31 84.5 32.1 86.7C33.1 88.9 34.5 90.9 34.9 93.4C35.4 95.8 34.9 100 34.8 101.3M12.4 64.7C12.3 65.2 11.9 66.7 11.9 67.7C11.8 68.7 12 70.3 12 70.8M-12.3 64.6C-12.5 65.9 -13.2 69.7 -13.4 72.3C-13.6 74.8 -13.5 78.7 -13.6 80M-28.6 78.9C-28.8 79.9 -29.9 82.9 -30.2 85C-30.6 87 -30.6 89.1 -30.8 91.2C-30.9 93.3 -30.9 96.4 -30.9 97.5M-28.6 78.9C-29 79.9 -30.3 83.2 -31.4 85.3C-32.4 87.4 -33.7 89.3 -34.7 91.4C-35.8 93.4 -37.4 96.6 -37.9 97.6M-36.3 70.3C-37.2 71.2 -40.1 73.8 -42 75.5C-43.9 77.2 -45.9 78.9 -47.8 80.7C-49.7 82.5 -52.4 85.3 -53.3 86.2" stroke="#da432b" stroke-width="1.1" stroke-opacity="0.88"/>
<path d="M0 0C-0.8 -0.3 -3.4 -1.3 -5 -2.1C-6.5 -2.9 -8.1 -3.6 -9.4 -4.6C-10.6 -5.7 -11.6 -6.8 -12.4 -8.2C-13.1 -9.6 -13.5 -11.4 -13.9 -13.1C-14.2 -14.8 -14.5 -17.6 -14.6 -18.5M0 0C0.9 -0.7 3.6 -2.6 5.2 -4C6.9 -5.5 8.2 -7.2 9.9 -8.6C11.6 -10 14 -10.8 15.5 -12.3C17.1 -13.8 18.4 -15.6 19.3 -17.6C20.2 -19.7 20.7 -23.5 21 -24.7M0 0C0.9 -0.1 3.7 -0.3 5.6 -0.3C7.4 -0.4 9.5 0.1 11.3 -0.2C13.1 -0.5 14.7 -1.2 16.3 -2.1C17.9 -3.1 19.3 -4.6 20.8 -5.6C22.4 -6.7 24.8 -7.9 25.6 -8.3M0 0C0.5 1 2 4.1 3.1 6.1C4.1 8 5 10.2 6.4 11.9C7.7 13.5 9.2 15 11 16.1C12.8 17.3 15.1 18 17.1 18.8C19.2 19.6 22.5 20.8 23.5 21.2M0 0C0.5 0.8 1.8 3.2 2.8 4.7C3.9 6.2 5.7 7.4 6.4 9.1C7.1 10.7 7 12.7 7.2 14.5C7.4 16.4 7 18.4 7.4 20.2C7.8 22 9.1 24.3 9.5 25.2M0 0C-0.2 0.9 -0.8 3.7 -1.3 5.5C-1.8 7.3 -2.4 9.1 -3.1 10.8C-3.8 12.5 -4.6 14.2 -5.5 15.7C-6.5 17.3 -7.7 18.7 -9 20.1C-10.2 21.5 -12.3 23.5 -13 24.2M0 0C-0.8 0.1 -3.1 0.3 -4.6 0.6C-6.1 1 -7.7 1.3 -9.1 1.9C-10.6 2.5 -11.9 3.7 -13.4 4.2C-14.8 4.7 -16.4 4.9 -17.9 5C-19.5 5.2 -21.9 5.2 -22.7 5.2M0 0C-0.8 -0.6 -3 -2.6 -4.6 -3.5C-6.2 -4.3 -7.9 -4.9 -9.6 -5.4C-11.4 -5.8 -13.3 -5.8 -15 -6.2C-16.8 -6.5 -18.5 -7.2 -20.3 -7.5C-22.1 -7.9 -24.8 -8.1 -25.7 -8.2M0 0C-0.6 -1.1 -2.4 -4.3 -3.6 -6.5C-4.8 -8.6 -6.3 -10.7 -7.3 -12.9C-8.2 -15.1 -8.9 -17.4 -9.2 -19.8C-9.5 -22.1 -9.1 -24.7 -9 -27.2C-9 -29.6 -8.9 -33.3 -8.8 -34.6M0 0C0.3 0.9 1.5 3.7 2.1 5.6C2.7 7.4 3.5 9.3 3.7 11.1C4 13 4 14.8 3.6 16.6C3.2 18.3 2.1 20.1 1.2 21.8C0.3 23.6 -1.3 26.2 -1.9 27" stroke="#da432b" stroke-width="1.1" stroke-opacity="0.85"/>
<path d="M-65 -49.1C-66.2 -49.3 -69.8 -49.9 -72 -50.7C-74.3 -51.5 -76.4 -52.6 -78.3 -53.9C-80.3 -55.2 -82.9 -57.8 -83.8 -58.6M46.4 17.8C47.8 17.8 52.1 17.8 54.9 17.7C57.7 17.7 62 17.5 63.4 17.5M35.2 25.7C36.2 26 39.3 27.3 41.4 27.9C43.6 28.4 46.1 28.2 48.2 28.9C50.2 29.7 52 31 53.8 32.3C55.6 33.6 57.1 35.6 59 36.8C60.8 38 63.9 39.1 64.9 39.6M12.4 64.7C13.2 65.9 16 69.5 17.2 72.1C18.4 74.8 19.1 79.3 19.5 80.8M-12.3 64.6C-12.8 65.7 -14.2 68.9 -15 71.1C-15.7 73.3 -15.8 75.8 -16.7 77.9C-17.6 80.1 -19.8 82.9 -20.4 83.9M-50.2 65.2C-50.6 66.2 -51.5 69.2 -52.2 71.2C-53 73.1 -53.8 75.1 -54.9 76.9C-55.9 78.7 -57.8 81.3 -58.4 82.2M-50.2 65.2C-51.5 66 -55.7 67.9 -57.9 69.9C-60.2 71.8 -62.6 75.8 -63.6 76.9M-38.7 31.7C-39.6 32.2 -42.4 33.6 -44.4 34.4C-46.3 35.2 -48.3 35.8 -50.3 36.5C-52.3 37.3 -54.2 38.1 -56.1 39C-58 39.9 -60.7 41.5 -61.6 42M-63 28C-64.1 28.7 -67.2 30.9 -69.4 32.3C-71.6 33.6 -74.4 34.3 -76.2 36.1C-77.9 38 -79.2 42.2 -79.8 43.4M-63 28C-64.5 28.3 -68.9 28.9 -71.8 29.5C-74.7 30.1 -79.1 31.2 -80.5 31.6M-66.7 15.7C-67.8 15.7 -71.2 15.9 -73.4 16.1C-75.6 16.4 -77.7 16.8 -79.8 17.3C-81.9 17.9 -83.9 18.7 -85.9 19.5C-87.8 20.4 -89.8 21.4 -91.7 22.5C-93.6 23.6 -96.3 25.5 -97.3 26.1M-66.7 15.7C-68.1 16 -72.1 17.4 -74.8 17.4C-77.4 17.4 -81.5 16 -82.8 15.7" stroke="#da432b" stroke-width="1.2" stroke-opacity="0.88"/>
<path d="M0 0C0.3 -1.1 1.4 -4.3 1.9 -6.5C2.4 -8.7 2.6 -10.9 3 -13.1C3.5 -15.3 4.3 -17.4 4.8 -19.6C5.3 -21.8 6.1 -23.9 6.2 -26.2C6.4 -28.4 6.1 -30.6 5.7 -32.9C5.4 -35.2 4.4 -38.6 4.2 -39.8M0 0C1.1 0 4.5 0.1 6.7 0.1C9 0.1 11.2 0.2 13.5 0C15.7 -0.1 18.1 -0.7 20.3 -0.7C22.5 -0.8 24.8 -0.7 27 -0.2C29.1 0.4 31.2 1.6 33.3 2.6C35.4 3.6 38.6 5.1 39.6 5.6M0 0C0.2 1.1 0.8 4.5 1 6.8C1.2 9 1.3 11.2 1.2 13.4C1 15.7 0.5 17.9 0.1 20.1C-0.2 22.3 -0.6 24.5 -0.9 26.7C-1.2 28.9 -1.2 31.1 -1.5 33.3C-1.8 35.5 -2.6 38.8 -2.8 39.9M0 0C-1.1 0.3 -4.4 1.3 -6.6 1.6C-8.8 1.9 -11 1.8 -13.2 1.7C-15.5 1.7 -17.7 1.2 -20 1.2C-22.2 1.2 -24.4 1.6 -26.6 1.8C-28.8 2.1 -31 2.8 -33.2 3C-35.4 3.1 -38.8 2.8 -39.9 2.8" stroke="#da432b" stroke-width="1.2" stroke-opacity="0.9"/>
<path d="M-40.4 -10.9C-41.7 -10.7 -45.8 -9.7 -48.5 -9.2C-51.2 -8.7 -55.4 -8.2 -56.8 -8M-40.4 -10.9C-41.6 -11.4 -45.2 -12.7 -47.6 -13.7C-50 -14.6 -52.4 -15.4 -54.7 -16.7C-56.9 -18 -59.9 -20.6 -60.9 -21.3M-44.7 -29.2C-45.7 -29.4 -48.9 -30 -50.8 -30.7C-52.7 -31.5 -54.5 -32.5 -56.3 -33.6C-58.1 -34.7 -59.6 -36.2 -61.5 -37.1C-63.3 -38.1 -66.3 -39 -67.3 -39.3M-31.7 -36.8C-31.7 -37.9 -31.6 -41.3 -31.7 -43.5C-31.9 -45.7 -32.2 -47.8 -32.8 -49.9C-33.4 -51.9 -34.3 -53.9 -35.4 -55.8C-36.4 -57.7 -38.3 -60.5 -38.9 -61.5M-16.6 -44.4C-17.3 -45.4 -19.3 -48.2 -20.5 -50.1C-21.8 -52 -23 -53.9 -24 -56C-24.9 -58.1 -25.9 -61.4 -26.3 -62.5M17.2 -49.3C16.8 -50.5 15 -54.1 14.8 -56.6C14.7 -59.1 16.1 -62.9 16.3 -64.2M17.2 -49.3C17.6 -50.2 18.5 -53.2 19.4 -55C20.3 -56.9 21.1 -58.7 22.4 -60.3C23.7 -61.8 26.5 -63.6 27.3 -64.3M32.4 -43.9C33.1 -44.8 35.2 -47.9 37 -49.4C38.8 -51 41.2 -51.8 43.1 -53.2C45.1 -54.5 47.8 -56.8 48.8 -57.6M33.8 -23.8C34.9 -24.3 38.4 -25.4 40.2 -26.6C42.1 -27.8 43.6 -29.4 45.1 -31C46.6 -32.6 47.9 -34.4 49.1 -36.2C50.3 -38.1 51.7 -41.3 52.2 -42.3M33.8 -23.8C34.9 -24.3 38 -25.7 40.1 -26.7C42.1 -27.6 44.1 -28.9 46.2 -29.7C48.4 -30.5 50.8 -30.6 53 -31.2C55.2 -31.8 58.4 -33 59.5 -33.3M45.6 -10C46.7 -10.5 50 -11.8 52.1 -12.7C54.3 -13.7 56.4 -14.8 58.5 -15.7C60.7 -16.7 63 -17.2 65 -18.5C67 -19.8 69.5 -22.5 70.4 -23.4M45.6 -10C46.6 -9.8 49.6 -9 51.6 -9C53.6 -9 55.7 -9.8 57.7 -9.8C59.7 -9.8 62.7 -9.3 63.7 -9.2M46.4 17.8C47.5 18 51.1 18.3 53.3 18.8C55.5 19.2 57.7 19.7 59.8 20.5C61.8 21.3 63.8 22.3 65.6 23.5C67.5 24.7 69.2 26.2 70.9 27.7C72.5 29.3 74.8 32 75.6 32.8M35.2 25.7C35.8 26.8 37.6 30.2 38.7 32.4C39.9 34.7 40.6 37.4 42.2 39.2C43.9 41.1 47.7 43 48.8 43.7M25.1 46.3C26.2 46.8 29.5 48.2 31.5 49.3C33.5 50.5 35.7 51.5 37.2 53.2C38.7 54.9 40 58.6 40.6 59.7M25.1 46.3C25.8 47.3 28.5 50.1 29.5 52.3C30.4 54.5 30.1 57 30.5 59.4C30.9 61.7 31.6 65.2 31.9 66.4M12.7 47.6C13.1 48.7 14.5 52.1 15.2 54.4C16 56.7 16.4 59.2 17.1 61.5C17.9 63.8 18.8 66 19.8 68.2C20.9 70.4 23 73.5 23.6 74.5M-28 43.1C-28 44.3 -27.7 48.1 -28.1 50.5C-28.5 52.8 -29.4 55 -30.3 57.3C-31.1 59.5 -32.1 61.7 -33.1 63.8C-34.1 66 -35.7 69.2 -36.3 70.3M-38.7 31.7C-39.4 32.4 -41.8 34.5 -43.1 35.9C-44.5 37.4 -45.8 38.9 -47 40.6C-48.1 42.3 -48.8 44.3 -50 46C-51.1 47.7 -53.2 49.9 -53.9 50.7" stroke="#da432b" stroke-width="1.4" stroke-opacity="0.88"/>
<path d="M-44.7 -29.2C-45.8 -29.7 -49.4 -31.2 -51.4 -32.5C-53.4 -33.8 -55.3 -35.3 -56.8 -37.2C-58.3 -39 -59 -41.7 -60.4 -43.6C-61.7 -45.6 -64.2 -48.2 -65 -49.1M12.7 47.6C12.4 49 10.9 53.2 10.8 56.1C10.7 58.9 12.1 63.2 12.4 64.7M-13.6 46.2C-13.2 47.2 -11.1 50.1 -10.8 52.1C-10.4 54.2 -11.3 56.3 -11.6 58.4C-11.8 60.5 -12.2 63.6 -12.3 64.6M-13.6 46.2C-14.1 47.3 -15.5 50.6 -16.5 52.8C-17.4 55 -18.4 57.2 -19.4 59.4C-20.3 61.5 -21.3 63.7 -22.3 65.9C-23.4 68.1 -24.4 70.2 -25.4 72.4C-26.5 74.6 -28 77.8 -28.6 78.9" stroke="#e4462a" stroke-width="1.5" stroke-opacity="0.88"/>
<path d="M-31.7 -36.8C-32.4 -37.6 -34.6 -39.8 -35.9 -41.5C-37.2 -43.1 -38.1 -45.3 -39.6 -46.7C-41.2 -48 -44.5 -49.1 -45.4 -49.6M-16.6 -44.4C-16.4 -45.5 -15.4 -48.4 -15.1 -50.5C-14.9 -52.5 -15.2 -54.7 -15.1 -56.7C-14.9 -58.8 -14.3 -61.8 -14.1 -62.8M32.4 -43.9C33.3 -44.9 36.1 -47.9 37.7 -50C39.3 -52.2 41 -54.2 41.9 -56.7C42.7 -59.2 42.8 -63.6 43 -65M-28 43.1C-28.3 44.2 -29.3 47.6 -30.3 49.7C-31.2 51.7 -32.2 53.7 -33.6 55.2C-35 56.8 -36.9 57.8 -38.7 59C-40.5 60.1 -42.4 61.2 -44.3 62.2C-46.2 63.3 -49.2 64.7 -50.2 65.2M-41.9 16.5C-42.9 16.7 -46.2 16.9 -48.1 17.6C-50 18.3 -51.7 19.5 -53.3 20.6C-55 21.7 -56.7 22.9 -58.3 24.2C-59.9 25.4 -62.2 27.4 -63 28M-41.9 16.5C-42.9 16.6 -46 16.8 -48.1 16.9C-50.2 17 -52.3 17.1 -54.3 17C-56.4 16.9 -58.5 16.7 -60.5 16.5C-62.6 16.2 -65.7 15.8 -66.7 15.7" stroke="#e4462a" stroke-width="1.5" stroke-opacity="1.0"/>
<path d="M20.9 12.7C21.5 13.6 23.3 16.4 24.7 18.1C26.1 19.7 27.6 21.3 29.3 22.6C31.1 23.8 34.2 25.1 35.2 25.7M-23.6 11.5C-24.2 12.3 -26.1 14.8 -27.4 16.5C-28.7 18.2 -30 19.8 -31.2 21.5C-32.5 23.2 -33.6 25 -34.8 26.7C-36.1 28.4 -38.1 30.9 -38.7 31.7" stroke="#e4462a" stroke-width="1.6" stroke-opacity="1.0"/>
<path d="M-22.3 -9.3C-23.3 -9.4 -26.3 -9.8 -28.3 -10.1C-30.3 -10.3 -32.3 -10.6 -34.3 -10.7C-36.3 -10.8 -39.3 -10.9 -40.4 -10.9M-11.7 -20.1C-12.3 -21 -14 -24.1 -15.6 -25.6C-17.1 -27.1 -19.1 -28.2 -21 -29.3C-22.8 -30.5 -25 -31.2 -26.8 -32.5C-28.6 -33.7 -30.9 -36.1 -31.7 -36.8M-11.7 -20.1C-11.6 -21.1 -11.4 -24.4 -11.2 -26.5C-11.1 -28.6 -10.5 -30.9 -10.9 -32.9C-11.2 -35 -12.4 -36.8 -13.4 -38.8C-14.3 -40.7 -16.1 -43.5 -16.6 -44.4M19.3 -9.6C20.3 -10.2 23.5 -11.7 25.3 -13.2C27.1 -14.6 28.5 -16.4 29.9 -18.2C31.3 -19.9 33.2 -22.9 33.8 -23.8M19.3 -9.6C20.4 -9.9 23.7 -10.6 25.9 -11C28 -11.4 30.2 -11.7 32.4 -11.8C34.6 -11.8 36.8 -11.5 39 -11.2C41.2 -11 44.5 -10.2 45.6 -10M20.9 12.7C21.9 13.2 24.8 15 26.9 15.9C28.9 16.7 31 17.4 33.2 17.7C35.3 17.9 37.6 17.5 39.8 17.6C42 17.6 45.3 17.8 46.4 17.8M10.5 21.8C11.3 22.7 14 25.3 15.4 27.2C16.9 29.1 17.9 31.3 19.1 33.3C20.3 35.3 21.7 37.3 22.7 39.4C23.7 41.6 24.7 45.2 25.1 46.3M10.5 21.8C10.4 22.9 10.1 26.2 10 28.4C9.8 30.5 9.4 32.7 9.4 34.9C9.5 37 9.9 39.2 10.4 41.3C11 43.4 12.3 46.5 12.7 47.6M-12.1 24.2C-12.2 25.4 -12.4 29.1 -12.6 31.5C-12.7 34 -12.9 36.4 -13 38.8C-13.2 41.3 -13.5 44.9 -13.6 46.2M-12.1 24.2C-12.7 25 -14.6 27.5 -15.8 29.1C-17 30.8 -18.2 32.5 -19.5 34.1C-20.7 35.7 -21.9 37.4 -23.3 38.9C-24.8 40.4 -27.2 42.4 -28 43.1" stroke="#e4462a" stroke-width="1.8" stroke-opacity="1.0"/>
<path d="M-22.3 -9.3C-23.2 -10.1 -26.3 -12.3 -28.1 -14C-30 -15.6 -31.7 -17.5 -33.6 -19.1C-35.5 -20.8 -37.5 -22.2 -39.4 -23.9C-41.2 -25.6 -43.8 -28.3 -44.7 -29.2M11.1 -24.4C11.6 -25.4 13.4 -28.2 14.2 -30.2C15.1 -32.2 15.6 -34.3 16.1 -36.4C16.5 -38.4 17 -40.5 17.2 -42.7C17.3 -44.8 17.2 -48.2 17.2 -49.3M11.1 -24.4C12 -25.2 14.4 -27.9 16.3 -29.4C18.3 -30.8 20.8 -31.6 22.7 -33.1C24.6 -34.6 26.2 -36.4 27.8 -38.2C29.4 -40 31.6 -42.9 32.4 -43.9M-23.6 11.5C-24.6 11.8 -27.6 12.8 -29.6 13.3C-31.7 13.9 -33.7 14.2 -35.8 14.8C-37.8 15.3 -40.8 16.2 -41.9 16.5" stroke="#e4462a" stroke-width="1.9" stroke-opacity="1.0"/>
<path d="M0 0C-0.9 -0.4 -3.9 -1.2 -5.7 -2.1C-7.5 -3 -9 -4.4 -10.8 -5.5C-12.5 -6.5 -14.2 -7.6 -16.2 -8.3C-18.1 -8.9 -21.2 -9.1 -22.3 -9.3M0 0C-0.9 -1 -3.7 -3.8 -5.3 -5.9C-6.9 -7.9 -8.3 -10.1 -9.4 -12.4C-10.4 -14.8 -11.3 -18.8 -11.7 -20.1M0 0C0.5 -1 1.9 -4 2.7 -6.1C3.5 -8.2 3.8 -10.6 4.7 -12.6C5.7 -14.6 7.4 -16.3 8.5 -18.2C9.5 -20.2 10.7 -23.4 11.1 -24.4M0 0C1.2 -0.2 5 -0.8 7.3 -1.5C9.6 -2.2 12 -2.9 14 -4.2C16 -5.6 18.4 -8.7 19.3 -9.6M0 0C0.7 0.8 2.6 3.6 4.2 4.9C5.7 6.2 7.7 7 9.4 8C11.2 9.1 12.9 10.2 14.8 11C16.7 11.8 19.9 12.4 20.9 12.7M0 0C0.2 1 0.7 4.2 1.1 6.2C1.5 8.2 1.7 10.4 2.6 12.2C3.4 14.1 4.6 15.7 6 17.3C7.3 18.9 9.8 21.1 10.5 21.8M0 0C-0.3 1.1 -1 4.5 -1.7 6.7C-2.4 8.9 -3 11.1 -4 13.1C-5.1 15.1 -6.8 16.8 -8.2 18.6C-9.5 20.5 -11.4 23.3 -12.1 24.2M0 0C-0.9 0.6 -3.7 2.4 -5.6 3.4C-7.6 4.4 -9.6 5.3 -11.6 6.2C-13.6 7 -15.7 7.7 -17.7 8.6C-19.7 9.5 -22.6 11 -23.6 11.5" stroke="#e4462a" stroke-width="2.2" stroke-opacity="1.0"/>
</g>
<circle cx="0" cy="0" r="1.6" fill="#f3d0c0"/>
<path d="M-119.7 -40.8C-119.2 -42 -119 -44.1 -116.7 -48.2C-114.5 -52.2 -110.2 -59.5 -106.2 -65.1C-102.2 -70.7 -97.8 -76.5 -92.5 -81.9C-87.2 -87.4 -81 -93 -74.5 -97.8C-68 -102.6 -60.3 -107 -53.4 -110.5C-46.5 -114 -36.4 -117.3 -33 -118.6C-31.7 -116.9 -27.9 -112.4 -25 -108.1C-22.1 -103.8 -18.3 -98.1 -15.5 -92.9C-12.7 -87.7 -10 -82 -7.9 -76.8C-5.8 -71.6 -3.9 -66.4 -2.7 -61.6C-1.5 -56.9 -1.1 -51.2 -0.5 -48.3C0.1 -45.4 0.5 -45 0.7 -44.3C0.9 -45.1 1.3 -46 2.1 -49.2C2.9 -52.4 3.7 -58.6 5.4 -63.5C7 -68.4 9.3 -73.5 12 -78.7C14.7 -83.9 18 -89.9 21.5 -94.8C25 -99.7 29.1 -104.1 32.9 -108.1C36.7 -112.1 42.5 -117 44.4 -118.8C47.7 -117 57.3 -112.5 64.3 -108C71.3 -103.5 79.9 -98 86.5 -91.8C93.1 -85.7 99.5 -78 104.2 -71.1C108.9 -64.2 111.9 -56.8 114.5 -50.4C117.1 -44 118.6 -37.2 119.7 -32.7C120.8 -28.2 120.9 -24.9 121.2 -23.3C118.4 -21.4 110 -15.1 104.2 -12C98.4 -8.9 92.6 -6.8 86.5 -4.6C80.4 -2.4 72 -0.3 67.3 1.3C62.6 2.9 59.7 4.5 58.2 5.2C60.1 6.1 65.6 8.6 69.6 10.7C73.6 12.7 78.1 15 82.3 17.5C86.5 20 90.7 22.8 94.9 25.9C99.1 29 103.3 32.2 107.6 36.1C111.9 40 118.5 47 120.7 49.2C119.7 51.3 117 57.4 114.5 61.7C112 66 108.5 71.1 105.5 75.1C102.5 79.1 99.9 82.3 96.6 85.9C93.3 89.5 89.6 93.3 85.8 96.7C82.1 100.1 78.3 103.4 74.1 106.5C69.9 109.6 65 112.9 60.7 115.5C56.4 118.1 50.2 120.9 48.1 122C46.6 120.8 42.4 117.9 39.1 115.1C35.8 112.3 32 109.1 28.5 105.1C25 101.1 21.5 96.1 18 90.9C14.5 85.7 10.3 79.2 7.6 74C4.9 68.8 2.6 62.2 1.6 59.9C1.1 60.8 -0.2 62.8 -1.5 65.4C-2.8 68 -4.5 72.1 -6.2 75.6C-7.9 79.1 -9.7 82.8 -11.7 86.5C-13.7 90.2 -15.6 93.9 -18 97.5C-20.4 101.1 -23.2 105.3 -25.8 108.4C-28.4 111.5 -31 113.7 -33.6 116.2C-36.2 118.7 -40.1 122.4 -41.4 123.6C-44.2 122.6 -51.9 121.3 -58.2 117.7C-64.6 114.1 -72.6 108 -79.5 102.1C-86.4 96.2 -93.5 89.5 -99.5 82.1C-105.5 74.7 -110.9 65.5 -115.2 57.9C-119.5 50.3 -123.5 40.1 -125.2 36.5C-123.5 34.9 -118.8 30.2 -115.2 27.2C-111.6 24.2 -108.1 21.2 -103.8 18.7C-99.5 16.2 -94.3 14 -89.5 12.2C-84.7 10.4 -80 9.4 -75.2 8C-70.5 6.6 -63.4 4.6 -61 3.9C-63.4 2.9 -70.7 0.3 -75.6 -2.3C-80.5 -5 -86 -8.9 -90.3 -12C-94.6 -15.1 -97.7 -17.5 -101.4 -20.8C-105.1 -24.1 -109.5 -28.6 -112.5 -31.9C-115.5 -35.2 -118.5 -39.3 -119.7 -40.8Z" fill="none" stroke="#000" stroke-width="1.7" stroke-linejoin="miter"/>
</g>
</defs>
<rect width="1333" height="947" fill="#fff"/>
<rect x="2.5" y="3" width="1327.6" height="121.6" rx="13" fill="#edf2fb" stroke="#8a9ec8" stroke-width="2.6"/>
<rect x="5.6" y="525.2" width="1319.8" height="104.4" rx="13.5" fill="#edf2fb" stroke="#8a9ec8" stroke-width="2.6"/>

<use href="#flower" transform="translate(277.3 306.3) scale(1.0)"/>
<use href="#flower" transform="translate(743.4 304.4) scale(1.0)"/>
<use href="#flower" transform="translate(283.4 800.2) scale(0.972)"/>
<use href="#flower" transform="translate(687 800.2) scale(0.972)"/>
<use href="#flower" transform="translate(1118.6 800.2) scale(0.972)"/>
<path d="M298.3 283.8Q296.9 291.5 289.2 290.5L290.9 290.7Q283.2 289.7 275.6 287.7L277.3 288.2Q269.7 286.2 270.7 278.5L270.5 280.1Q271.4 272.3 272.8 264.7L272.5 266.3Q273.9 258.6 281.6 259.7L279.9 259.5Q287.6 260.6 295.1 262.7L293.6 262.2Q301.1 264.3 300.1 272L300.4 270.2Q299.4 277.9 298 285.6Z" fill="#ff3048" opacity="0.7" filter="url(#glow)" transform="translate(285.5 275.2) scale(1.06) translate(-285.5 -275.2)"/>
<path d="M298.3 283.8Q296.9 291.5 289.2 290.5L290.9 290.7Q283.2 289.7 275.6 287.7L277.3 288.2Q269.7 286.2 270.7 278.5L270.5 280.1Q271.4 272.3 272.8 264.7L272.5 266.3Q273.9 258.6 281.6 259.7L279.9 259.5Q287.6 260.6 295.1 262.7L293.6 262.2Q301.1 264.3 300.1 272L300.4 270.2Q299.4 277.9 298 285.6Z" fill="#ff0a10" stroke="#ee1a45" stroke-width="1.1"/>
<ellipse cx="288" cy="275.8" rx="4.7" ry="5.6" fill="#ee3a6c" filter="url(#soft)"/>
<path d="M251.3 318.8Q250.1 326.7 242.2 325.9L244 326.1Q236.2 325.3 228.4 323.6L230.1 324Q222.4 322.3 223.1 314.5L223 316.1Q223.6 308.2 224.8 300.4L224.5 302Q225.7 294.2 233.5 295.1L231.8 294.9Q239.6 295.8 247.3 297.6L245.7 297.2Q253.4 299 252.7 306.9L252.9 305Q252.2 312.9 251 320.7Z" fill="#ff3048" opacity="0.7" filter="url(#glow)" transform="translate(238 310.6) scale(1.06) translate(-238 -310.6)"/>
<path d="M251.3 318.8Q250.1 326.7 242.2 325.9L244 326.1Q236.2 325.3 228.4 323.6L230.1 324Q222.4 322.3 223.1 314.5L223 316.1Q223.6 308.2 224.8 300.4L224.5 302Q225.7 294.2 233.5 295.1L231.8 294.9Q239.6 295.8 247.3 297.6L245.7 297.2Q253.4 299 252.7 306.9L252.9 305Q252.2 312.9 251 320.7Z" fill="#ff0a10" stroke="#ee1a45" stroke-width="1.1"/>
<ellipse cx="241" cy="311.4" rx="4.7" ry="5.7" fill="#ee3a6c" filter="url(#soft)"/>
<path d="M292.8 344.8Q291.9 351.9 284.7 351.5L286.4 351.6Q279.2 351.2 272.1 349.9L273.7 350.2Q266.6 348.9 266.9 341.7L266.9 343.2Q267.2 336 268 328.8L267.8 330.3Q268.6 323.2 275.8 323.7L274.2 323.6Q281.4 324.1 288.5 325.5L287 325.2Q294.1 326.6 293.7 333.8L293.8 332.1Q293.4 339.3 292.6 346.5Z" fill="#ff3048" opacity="0.7" filter="url(#glow)" transform="translate(280.4 337.7) scale(1.06) translate(-280.4 -337.7)"/>
<path d="M292.8 344.8Q291.9 351.9 284.7 351.5L286.4 351.6Q279.2 351.2 272.1 349.9L273.7 350.2Q266.6 348.9 266.9 341.7L266.9 343.2Q267.2 336 268 328.8L267.8 330.3Q268.6 323.2 275.8 323.7L274.2 323.6Q281.4 324.1 288.5 325.5L287 325.2Q294.1 326.6 293.7 333.8L293.8 332.1Q293.4 339.3 292.6 346.5Z" fill="#ff0a10" stroke="#ee1a45" stroke-width="1.1"/>
<ellipse cx="282.9" cy="335" rx="4.3" ry="5.2" fill="#ee3a6c" filter="url(#soft)"/>
<path d="M332.8 330.3Q331.2 338.4 323.1 337.3L324.9 337.6Q316.7 336.5 308.7 334.5L310.5 334.9Q302.5 332.9 303.5 324.7L303.3 326.4Q304.3 318.2 305.8 310.1L305.4 311.8Q306.9 303.7 315.1 304.8L313.3 304.6Q321.4 305.8 329.4 307.9L327.7 307.5Q335.7 309.6 334.7 317.8L334.9 315.9Q333.9 324.1 332.4 332.2Z" fill="#ff3048" opacity="0.7" filter="url(#glow)" transform="translate(319.2 321.2) scale(1.06) translate(-319.2 -321.2)"/>
<path d="M332.8 330.3Q331.2 338.4 323.1 337.3L324.9 337.6Q316.7 336.5 308.7 334.5L310.5 334.9Q302.5 332.9 303.5 324.7L303.3 326.4Q304.3 318.2 305.8 310.1L305.4 311.8Q306.9 303.7 315.1 304.8L313.3 304.6Q321.4 305.8 329.4 307.9L327.7 307.5Q335.7 309.6 334.7 317.8L334.9 315.9Q333.9 324.1 332.4 332.2Z" fill="#ff0a10" stroke="#ee1a45" stroke-width="1.1"/>
<ellipse cx="318.4" cy="320.3" rx="5" ry="5.9" fill="#ee3a6c" filter="url(#soft)"/>
<path d="M303.8 778.3Q302.4 785.8 294.9 784.8L296.6 785Q289.1 784 281.8 782.2L283.4 782.6Q276 780.7 276.9 773.2L276.8 774.7Q277.7 767.2 279 759.7L278.7 761.3Q280.1 753.8 287.6 754.9L285.9 754.7Q293.4 755.8 300.7 757.8L299.2 757.4Q306.5 759.3 305.6 766.9L305.8 765.1Q304.9 772.6 303.5 780.1Z" fill="#ff3048" opacity="0.7" filter="url(#glow)" transform="translate(291.4 770) scale(1.06) translate(-291.4 -770)"/>
<path d="M303.8 778.3Q302.4 785.8 294.9 784.8L296.6 785Q289.1 784 281.8 782.2L283.4 782.6Q276 780.7 276.9 773.2L276.8 774.7Q277.7 767.2 279 759.7L278.7 761.3Q280.1 753.8 287.6 754.9L285.9 754.7Q293.4 755.8 300.7 757.8L299.2 757.4Q306.5 759.3 305.6 766.9L305.8 765.1Q304.9 772.6 303.5 780.1Z" fill="#ff0a10" stroke="#ee1a45" stroke-width="1.1"/>
<ellipse cx="293.8" cy="770.6" rx="4.5" ry="5.5" fill="#ee3a6c" filter="url(#soft)"/>
<path d="M258.1 812.4Q257 820 249.3 819.3L251.1 819.4Q243.4 818.7 235.9 817.1L237.6 817.4Q230.1 815.8 230.7 808.1L230.6 809.7Q231.2 802.1 232.3 794.5L232.1 796.1Q233.2 788.5 240.8 789.3L239.2 789.1Q246.8 790 254.3 791.7L252.7 791.3Q260.2 793.1 259.5 800.7L259.7 799Q259 806.6 257.8 814.2Z" fill="#ff3048" opacity="0.7" filter="url(#glow)" transform="translate(245.2 804.4) scale(1.06) translate(-245.2 -804.4)"/>
<path d="M258.1 812.4Q257 820 249.3 819.3L251.1 819.4Q243.4 818.7 235.9 817.1L237.6 817.4Q230.1 815.8 230.7 808.1L230.6 809.7Q231.2 802.1 232.3 794.5L232.1 796.1Q233.2 788.5 240.8 789.3L239.2 789.1Q246.8 790 254.3 791.7L252.7 791.3Q260.2 793.1 259.5 800.7L259.7 799Q259 806.6 257.8 814.2Z" fill="#ff0a10" stroke="#ee1a45" stroke-width="1.1"/>
<ellipse cx="248.1" cy="805.2" rx="4.6" ry="5.5" fill="#ee3a6c" filter="url(#soft)"/>
<path d="M298.4 837.6Q297.6 844.6 290.6 844.1L292.2 844.2Q285.2 843.8 278.4 842.6L279.9 842.8Q273 841.6 273.3 834.6L273.3 836Q273.6 829 274.4 822.1L274.2 823.6Q275 816.6 282 817.1L280.4 817Q287.4 817.5 294.3 818.9L292.8 818.6Q299.7 820 299.3 826.9L299.4 825.3Q299 832.3 298.2 839.3Z" fill="#ff3048" opacity="0.7" filter="url(#glow)" transform="translate(286.4 830.7) scale(1.06) translate(-286.4 -830.7)"/>
<path d="M298.4 837.6Q297.6 844.6 290.6 844.1L292.2 844.2Q285.2 843.8 278.4 842.6L279.9 842.8Q273 841.6 273.3 834.6L273.3 836Q273.6 829 274.4 822.1L274.2 823.6Q275 816.6 282 817.1L280.4 817Q287.4 817.5 294.3 818.9L292.8 818.6Q299.7 820 299.3 826.9L299.4 825.3Q299 832.3 298.2 839.3Z" fill="#ff0a10" stroke="#ee1a45" stroke-width="1.1"/>
<ellipse cx="288.8" cy="828.1" rx="4.2" ry="5" fill="#ee3a6c" filter="url(#soft)"/>
<path d="M337.3 823.5Q335.8 831.4 327.9 830.4L329.7 830.6Q321.7 829.6 314 827.6L315.7 828Q307.9 826 308.9 818.1L308.7 819.7Q309.6 811.7 311.1 803.9L310.8 805.5Q312.2 797.6 320.1 798.8L318.4 798.5Q326.3 799.7 334 801.8L332.4 801.3Q340.2 803.4 339.2 811.4L339.4 809.5Q338.4 817.5 337 825.4Z" fill="#ff3048" opacity="0.7" filter="url(#glow)" transform="translate(324.1 814.7) scale(1.06) translate(-324.1 -814.7)"/>
<path d="M337.3 823.5Q335.8 831.4 327.9 830.4L329.7 830.6Q321.7 829.6 314 827.6L315.7 828Q307.9 826 308.9 818.1L308.7 819.7Q309.6 811.7 311.1 803.9L310.8 805.5Q312.2 797.6 320.1 798.8L318.4 798.5Q326.3 799.7 334 801.8L332.4 801.3Q340.2 803.4 339.2 811.4L339.4 809.5Q338.4 817.5 337 825.4Z" fill="#ff0a10" stroke="#ee1a45" stroke-width="1.1"/>
<ellipse cx="323.3" cy="813.8" rx="4.8" ry="5.8" fill="#ee3a6c" filter="url(#soft)"/>
<circle cx="746" cy="284.5" r="5.8" fill="#ff0a18" stroke="#e8203c" stroke-width="0.8"/>
<circle cx="746.9" cy="284.5" r="1.9" fill="#f0386a" opacity="0.85"/>
<circle cx="706.2" cy="299.6" r="6.2" fill="#ff0a18" stroke="#e8203c" stroke-width="0.8"/>
<circle cx="707.1" cy="299.6" r="2" fill="#f0386a" opacity="0.85"/>
<circle cx="780.3" cy="305.4" r="7.6" fill="#ff0a18" stroke="#e8203c" stroke-width="0.8"/>
<circle cx="781.4" cy="305.4" r="2.5" fill="#f0386a" opacity="0.85"/>
<circle cx="743.9" cy="332.3" r="6.1" fill="#ff0a18" stroke="#e8203c" stroke-width="0.8"/>
<circle cx="744.8" cy="332.3" r="2" fill="#f0386a" opacity="0.85"/>
<circle cx="691" cy="777.2" r="5.8" fill="#ff0a18" stroke="#e8203c" stroke-width="0.8"/>
<circle cx="691.9" cy="777.2" r="1.9" fill="#f0386a" opacity="0.85"/>
<circle cx="659.6" cy="797" r="6" fill="#ff0a18" stroke="#e8203c" stroke-width="0.8"/>
<circle cx="660.5" cy="797" r="2" fill="#f0386a" opacity="0.85"/>
<circle cx="722.7" cy="801" r="7.4" fill="#ff0a18" stroke="#e8203c" stroke-width="0.8"/>
<circle cx="723.8" cy="801" r="2.4" fill="#f0386a" opacity="0.85"/>
<circle cx="685.8" cy="817.1" r="6" fill="#ff0a18" stroke="#e8203c" stroke-width="0.8"/>
<circle cx="686.7" cy="817.1" r="2" fill="#f0386a" opacity="0.85"/>
<circle cx="1123.4" cy="770.4" r="4.2" fill="#ff0a18" stroke="#e8203c" stroke-width="0.8"/>
<circle cx="1124" cy="770.4" r="1.4" fill="#f0386a" opacity="0.85"/>
<circle cx="1095.9" cy="793.3" r="4.6" fill="#ff0a18" stroke="#e8203c" stroke-width="0.8"/>
<circle cx="1096.6" cy="793.3" r="1.5" fill="#f0386a" opacity="0.85"/>
<circle cx="1142.6" cy="795.1" r="4.2" fill="#ff0a18" stroke="#e8203c" stroke-width="0.8"/>
<circle cx="1143.2" cy="795.1" r="1.4" fill="#f0386a" opacity="0.85"/>
<circle cx="1115.4" cy="812" r="3.8" fill="#ff0a18" stroke="#e8203c" stroke-width="0.8"/>
<circle cx="1116" cy="812" r="1.3" fill="#f0386a" opacity="0.85"/>
<g font-family="Liberation Sans, sans-serif">
<text x="83.6" y="42.3" font-size="26" textLength="1154" lengthAdjust="spacingAndGlyphs">ω-3,6 PUFA produce both pro-angiogenic (ω-3 &lt; ω-6) and anti-angiogenic (ω-3 &gt; ω-6) metabolites</text>
<text x="82.8" y="72.3" font-size="26" textLength="984.2" lengthAdjust="spacingAndGlyphs">CYP2J metabolize ω-3 and ω-6 PUFA to 19,20-EDP and 14,15-EET (pro-angiogenic)</text>
<text x="84" y="102.7" font-size="26" textLength="419" lengthAdjust="spacingAndGlyphs">A CYP2J2 inhibitor may inhibit CNV</text>
<text x="236.2" y="166.6" font-size="26" textLength="87.8" lengthAdjust="spacingAndGlyphs">Control</text>
<text x="56.2" y="272.4" font-size="31.5" textLength="61.6" lengthAdjust="spacingAndGlyphs">CNV</text>
<text x="83" y="413.6" font-size="15" textLength="89.4" lengthAdjust="spacingAndGlyphs">RPE/ choroid</text>
<text x="478.4" y="274.6" font-size="19" textLength="93" lengthAdjust="spacingAndGlyphs" font-weight="bold">ω-3 PUFA</text>
<text x="479.6" y="298" font-size="19" textLength="93.3" lengthAdjust="spacingAndGlyphs" font-weight="bold">ω-6 PUFA</text>
<text x="822.9" y="438.6" font-size="28.3" textLength="53" lengthAdjust="spacingAndGlyphs">CNV</text>
<text x="1023.2" y="224.4" font-size="27" textLength="115" lengthAdjust="spacingAndGlyphs">ω-6 PUFA</text>
<text x="1207.7" y="224.2" font-size="27" textLength="115.3" lengthAdjust="spacingAndGlyphs">ω-3 PUFA</text>
<text x="1008" y="375.7" font-size="28" textLength="138.6" lengthAdjust="spacingAndGlyphs">14,15-EET</text>
<text x="1181.2" y="375.7" font-size="28" textLength="143" lengthAdjust="spacingAndGlyphs">19,20-EDP</text>
<text x="1099.4" y="408.7" font-size="23" textLength="156.6" lengthAdjust="spacingAndGlyphs" fill="#b4232b">Pro-angiogenic</text>
<text x="85.4" y="570.6" font-size="26" textLength="583.6" lengthAdjust="spacingAndGlyphs">CYP2J inhibition further suppress CNV formation</text>
<text x="84.4" y="600.7" font-size="26" textLength="979" lengthAdjust="spacingAndGlyphs">Blocking both CYP2J2 + CYP2C8 further enhances the inhibition of CNV formation</text>
<text x="236" y="665.4" font-size="26" textLength="84.5" lengthAdjust="spacingAndGlyphs">Control</text>
<text x="67" y="769.4" font-size="30.5" textLength="60.6" lengthAdjust="spacingAndGlyphs">CNV</text>
<text x="98.9" y="904.3" font-size="15" textLength="87.5" lengthAdjust="spacingAndGlyphs">RPE/ choroid</text>
<text x="415.2" y="805.9" font-size="19.5" textLength="159.2" lengthAdjust="spacingAndGlyphs" font-weight="bold">CYP2J2 inhibitor</text>
<text x="820.3" y="806.1" font-size="19.5" textLength="172" lengthAdjust="spacingAndGlyphs" font-weight="bold">+CYP2C8 inhibitor</text>
<text x="773.7" y="943.6" font-size="27" textLength="51.8" lengthAdjust="spacingAndGlyphs">CNV</text>
<text x="1205" y="937.8" font-size="27" textLength="51.5" lengthAdjust="spacingAndGlyphs">CNV</text>
</g>
<path d="M456.4 308.8 L534.6 308.8 L534.6 303.4 L585 315.4 L534.6 326.8 L534.6 321.4 L456.4 321.4 Z" fill="#e9f0fa" stroke="#8aa2cf" stroke-width="2.2" stroke-linejoin="miter"/>
<path d="M434.4 817.8 L500.2 817.8 L500.2 812.4 L550.6 823.9 L500.2 835.6 L500.2 830.2 L434.4 830.2 Z" fill="#e9f0fa" stroke="#8aa2cf" stroke-width="2.2" stroke-linejoin="miter"/>
<path d="M840.6 817.8 L914.8 817.8 L914.8 812.5 L965.8 824.2 L914.8 835.9 L914.8 830.2 L840.6 830.2 Z" fill="#e9f0fa" stroke="#8aa2cf" stroke-width="2.2" stroke-linejoin="miter"/>
<path d="M451.5 275 V260.5 M447.8 264.3 L451.5 260.5 L455.2 264.3" fill="none" stroke="#000" stroke-width="2.7" stroke-linejoin="miter"/>
<path d="M469.3 275 V260.5 M465.6 264.3 L469.3 260.5 L473 264.3" fill="none" stroke="#000" stroke-width="2.7" stroke-linejoin="miter"/>
<path d="M888.9 418.7 V437.1 M883.9 432 L888.9 437.1 L893.9 432" fill="none" stroke="#000" stroke-width="2.0" stroke-linejoin="miter"/>
<path d="M838 924.6 V942.2 M833.2 937.3 L838 942.2 L842.8 937.3" fill="none" stroke="#000" stroke-width="2.0" stroke-linejoin="miter"/>
<path d="M1269.2 919 V936.4 M1264.5 931.7 L1269.2 936.4 L1273.9 931.7" fill="none" stroke="#000" stroke-width="2.0" stroke-linejoin="miter"/>
<path d="M1291.6 919 V936.4 M1286.8 931.6 L1291.6 936.4 L1296.4 931.6" fill="none" stroke="#000" stroke-width="2.0" stroke-linejoin="miter"/>
<path d="M130 262.7 H204.3 L220.6 291.8" fill="none" stroke="#ddd5b0" stroke-width="2.5"/>
<circle cx="220.6" cy="291.8" r="4.3" fill="#ddd5b0" stroke="#c9c09a" stroke-width="0.8"/>
<path d="M139.6 759.3 H210.9 L227.1 787.4" fill="none" stroke="#ddd5b0" stroke-width="2.5"/>
<circle cx="227.1" cy="787.4" r="4.2" fill="#ddd5b0" stroke="#c9c09a" stroke-width="0.8"/>
<g fill="none" stroke="#d9d3cd" stroke-width="2.8"><path d="M1116.5 230.7 Q1146 244 1155 264"/><path d="M1211.9 229.6 Q1188 243 1181 264"/><path d="M1153 302.3 Q1145 325 1126 340"/><path d="M1182.3 302.3 Q1192 325 1204 340"/></g>
<path d="M1117 348.5 L1119.5 336 L1129.5 343.5 Z" fill="#d9d3cd"/>
<path d="M1211.2 348.5 L1200.5 343.5 L1209 335.5 Z" fill="#d9d3cd"/>
<rect x="1102.5" y="265.3" width="124.5" height="35.2" rx="17.6" fill="#ebf1fb" stroke="#8ba2cd" stroke-width="2.6"/>
<g font-family="Liberation Sans, sans-serif"><text x="1130.4" y="290.8" font-size="24" textLength="70.6" lengthAdjust="spacingAndGlyphs">CYP2J</text></g>
</svg>
</body></html>
